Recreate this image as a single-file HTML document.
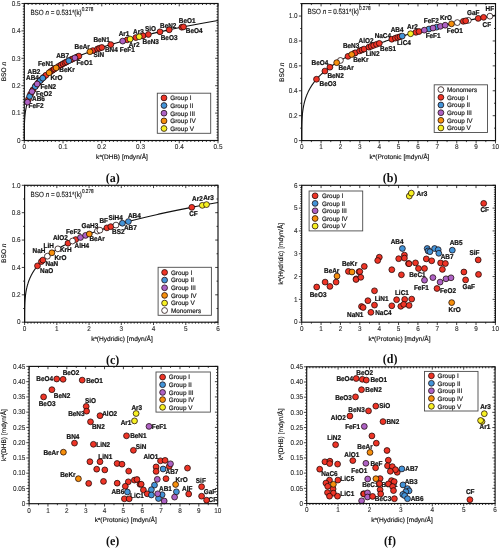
<!DOCTYPE html><html><head><meta charset="utf-8"><style>html,body{margin:0;padding:0;background:#fff;}svg{display:block;will-change:transform;}text{font-family:"Liberation Sans",sans-serif;text-rendering:geometricPrecision;}.lb{font-weight:bold;fill:#111;stroke:#111;stroke-width:0.22;}.tk{fill:#2a2a2a;stroke:#2a2a2a;stroke-width:0.1;}.lg{fill:#222;stroke:#222;stroke-width:0.2;}.tt{fill:#111;stroke:#111;stroke-width:0.15;}.eq{fill:#222;stroke:#222;stroke-width:0.15;}.cap{font-family:"Liberation Serif",serif;font-weight:bold;fill:#111;}</style></head><body>
<svg width="502" height="550" viewBox="0 0 502 550">
<rect width="502" height="550" fill="#fff"/>
<g>
<g>
<path d="M24.3 140.5v2.8M24.3 3.5v2.8M28.17 140.5v1.5M28.17 3.5v1.5M32.05 140.5v1.5M32.05 3.5v1.5M35.92 140.5v1.5M35.92 3.5v1.5M39.8 140.5v1.5M39.8 3.5v1.5M43.67 140.5v1.5M43.67 3.5v1.5M47.54 140.5v1.5M47.54 3.5v1.5M51.42 140.5v1.5M51.42 3.5v1.5M55.29 140.5v1.5M55.29 3.5v1.5M59.17 140.5v1.5M59.17 3.5v1.5M63.04 140.5v2.8M63.04 3.5v2.8M66.91 140.5v1.5M66.91 3.5v1.5M70.79 140.5v1.5M70.79 3.5v1.5M74.66 140.5v1.5M74.66 3.5v1.5M78.54 140.5v1.5M78.54 3.5v1.5M82.41 140.5v1.5M82.41 3.5v1.5M86.28 140.5v1.5M86.28 3.5v1.5M90.16 140.5v1.5M90.16 3.5v1.5M94.03 140.5v1.5M94.03 3.5v1.5M97.91 140.5v1.5M97.91 3.5v1.5M101.78 140.5v2.8M101.78 3.5v2.8M105.65 140.5v1.5M105.65 3.5v1.5M109.53 140.5v1.5M109.53 3.5v1.5M113.4 140.5v1.5M113.4 3.5v1.5M117.28 140.5v1.5M117.28 3.5v1.5M121.15 140.5v1.5M121.15 3.5v1.5M125.02 140.5v1.5M125.02 3.5v1.5M128.9 140.5v1.5M128.9 3.5v1.5M132.77 140.5v1.5M132.77 3.5v1.5M136.65 140.5v1.5M136.65 3.5v1.5M140.52 140.5v2.8M140.52 3.5v2.8M144.39 140.5v1.5M144.39 3.5v1.5M148.27 140.5v1.5M148.27 3.5v1.5M152.14 140.5v1.5M152.14 3.5v1.5M156.02 140.5v1.5M156.02 3.5v1.5M159.89 140.5v1.5M159.89 3.5v1.5M163.76 140.5v1.5M163.76 3.5v1.5M167.64 140.5v1.5M167.64 3.5v1.5M171.51 140.5v1.5M171.51 3.5v1.5M175.39 140.5v1.5M175.39 3.5v1.5M179.26 140.5v2.8M179.26 3.5v2.8M183.13 140.5v1.5M183.13 3.5v1.5M187.01 140.5v1.5M187.01 3.5v1.5M190.88 140.5v1.5M190.88 3.5v1.5M194.76 140.5v1.5M194.76 3.5v1.5M198.63 140.5v1.5M198.63 3.5v1.5M202.5 140.5v1.5M202.5 3.5v1.5M206.38 140.5v1.5M206.38 3.5v1.5M210.25 140.5v1.5M210.25 3.5v1.5M214.13 140.5v1.5M214.13 3.5v1.5M218 140.5v2.8M218 3.5v2.8" stroke="#111" stroke-width="0.8" fill="none"/>
<text transform="translate(24.3,149) scale(1,1.1)" class="tk" font-size="6.4" text-anchor="middle">0</text>
<text transform="translate(63.04,149) scale(1,1.1)" class="tk" font-size="6.4" text-anchor="middle">0.1</text>
<text transform="translate(101.78,149) scale(1,1.1)" class="tk" font-size="6.4" text-anchor="middle">0.2</text>
<text transform="translate(140.52,149) scale(1,1.1)" class="tk" font-size="6.4" text-anchor="middle">0.3</text>
<text transform="translate(179.26,149) scale(1,1.1)" class="tk" font-size="6.4" text-anchor="middle">0.4</text>
<text transform="translate(218,149) scale(1,1.1)" class="tk" font-size="6.4" text-anchor="middle">0.5</text>
<path d="M24.3 140.5h-2.8M218 140.5h-2.8M24.3 137.76h-1.5M218 137.76h-1.5M24.3 135.02h-1.5M218 135.02h-1.5M24.3 132.28h-1.5M218 132.28h-1.5M24.3 129.54h-1.5M218 129.54h-1.5M24.3 126.8h-1.5M218 126.8h-1.5M24.3 124.06h-1.5M218 124.06h-1.5M24.3 121.32h-1.5M218 121.32h-1.5M24.3 118.58h-1.5M218 118.58h-1.5M24.3 115.84h-1.5M218 115.84h-1.5M24.3 113.1h-2.8M218 113.1h-2.8M24.3 110.36h-1.5M218 110.36h-1.5M24.3 107.62h-1.5M218 107.62h-1.5M24.3 104.88h-1.5M218 104.88h-1.5M24.3 102.14h-1.5M218 102.14h-1.5M24.3 99.4h-1.5M218 99.4h-1.5M24.3 96.66h-1.5M218 96.66h-1.5M24.3 93.92h-1.5M218 93.92h-1.5M24.3 91.18h-1.5M218 91.18h-1.5M24.3 88.44h-1.5M218 88.44h-1.5M24.3 85.7h-2.8M218 85.7h-2.8M24.3 82.96h-1.5M218 82.96h-1.5M24.3 80.22h-1.5M218 80.22h-1.5M24.3 77.48h-1.5M218 77.48h-1.5M24.3 74.74h-1.5M218 74.74h-1.5M24.3 72h-1.5M218 72h-1.5M24.3 69.26h-1.5M218 69.26h-1.5M24.3 66.52h-1.5M218 66.52h-1.5M24.3 63.78h-1.5M218 63.78h-1.5M24.3 61.04h-1.5M218 61.04h-1.5M24.3 58.3h-2.8M218 58.3h-2.8M24.3 55.56h-1.5M218 55.56h-1.5M24.3 52.82h-1.5M218 52.82h-1.5M24.3 50.08h-1.5M218 50.08h-1.5M24.3 47.34h-1.5M218 47.34h-1.5M24.3 44.6h-1.5M218 44.6h-1.5M24.3 41.86h-1.5M218 41.86h-1.5M24.3 39.12h-1.5M218 39.12h-1.5M24.3 36.38h-1.5M218 36.38h-1.5M24.3 33.64h-1.5M218 33.64h-1.5M24.3 30.9h-2.8M218 30.9h-2.8M24.3 28.16h-1.5M218 28.16h-1.5M24.3 25.42h-1.5M218 25.42h-1.5M24.3 22.68h-1.5M218 22.68h-1.5M24.3 19.94h-1.5M218 19.94h-1.5M24.3 17.2h-1.5M218 17.2h-1.5M24.3 14.46h-1.5M218 14.46h-1.5M24.3 11.72h-1.5M218 11.72h-1.5M24.3 8.98h-1.5M218 8.98h-1.5M24.3 6.24h-1.5M218 6.24h-1.5M24.3 3.5h-2.8M218 3.5h-2.8" stroke="#111" stroke-width="0.8" fill="none"/>
<text transform="translate(20.6,142.7) scale(1,1.1)" class="tk" font-size="6.4" text-anchor="end">0</text>
<text transform="translate(20.6,115.3) scale(1,1.1)" class="tk" font-size="6.4" text-anchor="end">0.1</text>
<text transform="translate(20.6,87.9) scale(1,1.1)" class="tk" font-size="6.4" text-anchor="end">0.2</text>
<text transform="translate(20.6,60.5) scale(1,1.1)" class="tk" font-size="6.4" text-anchor="end">0.3</text>
<text transform="translate(20.6,33.1) scale(1,1.1)" class="tk" font-size="6.4" text-anchor="end">0.4</text>
<text transform="translate(20.6,5.7) scale(1,1.1)" class="tk" font-size="6.4" text-anchor="end">0.5</text>
<polyline points="24.3,140.5 24.3,139.69 24.3,139.05 24.3,138.47 24.3,137.92 24.3,137.4 24.3,136.89 24.3,136.39 24.3,135.91 24.3,135.43 24.3,134.97 24.3,134.51 24.31,134.06 24.31,133.61 24.31,133.17 24.31,132.74 24.31,132.31 24.31,131.89 24.32,131.46 24.32,131.05 24.32,130.63 24.33,130.23 24.33,129.82 24.34,129.42 24.34,129.01 24.35,128.62 24.35,128.22 24.36,127.83 24.37,127.44 24.37,127.05 24.38,126.67 24.39,126.28 24.4,125.9 24.41,125.52 24.42,125.14 24.43,124.77 24.44,124.39 24.45,124.02 24.47,123.65 24.48,123.28 24.49,122.91 24.51,122.55 24.52,122.18 24.54,121.82 24.56,121.46 24.58,121.1 24.59,120.74 24.61,120.38 24.63,120.03 24.66,119.67 24.68,119.32 24.7,118.96 24.73,118.61 24.75,118.26 24.78,117.91 24.8,117.56 24.83,117.22 24.86,116.87 24.89,116.53 24.92,116.18 24.95,115.84 24.99,115.5 25.02,115.15 25.06,114.81 25.09,114.47 25.13,114.14 25.17,113.8 25.21,113.46 25.25,113.13 25.29,112.79 25.34,112.46 25.38,112.12 25.43,111.79 25.48,111.46 25.53,111.12 25.58,110.79 25.63,110.46 25.68,110.13 25.74,109.81 25.79,109.48 25.85,109.15 25.91,108.82 25.97,108.5 26.03,108.17 26.09,107.85 26.16,107.53 26.23,107.2 26.29,106.88 26.36,106.56 26.43,106.24 26.51,105.92 26.58,105.6 26.66,105.28 26.73,104.96 26.81,104.64 26.89,104.32 26.98,104 27.06,103.69 27.15,103.37 27.24,103.05 27.33,102.74 27.42,102.42 27.51,102.11 27.61,101.8 27.7,101.48 27.8,101.17 27.9,100.86 28.01,100.55 28.11,100.24 28.22,99.93 28.33,99.62 28.44,99.31 28.55,99 28.67,98.69 28.78,98.38 28.9,98.07 29.02,97.76 29.15,97.46 29.27,97.15 29.4,96.84 29.53,96.54 29.66,96.23 29.8,95.93 29.93,95.62 30.07,95.32 30.21,95.02 30.35,94.71 30.5,94.41 30.65,94.11 30.8,93.8 30.95,93.5 31.1,93.2 31.26,92.9 31.42,92.6 31.58,92.3 31.75,92 31.91,91.7 32.08,91.4 32.25,91.1 32.43,90.8 32.6,90.51 32.78,90.21 32.97,89.91 33.15,89.61 33.34,89.32 33.53,89.02 33.72,88.73 33.91,88.43 34.11,88.14 34.31,87.84 34.51,87.55 34.72,87.25 34.93,86.96 35.14,86.66 35.35,86.37 35.57,86.08 35.79,85.78 36.01,85.49 36.24,85.2 36.47,84.91 36.7,84.62 36.93,84.33 37.17,84.04 37.41,83.74 37.65,83.45 37.9,83.16 38.14,82.88 38.4,82.59 38.65,82.3 38.91,82.01 39.17,81.72 39.43,81.43 39.7,81.14 39.97,80.86 40.24,80.57 40.52,80.28 40.8,79.99 41.08,79.71 41.37,79.42 41.66,79.14 41.95,78.85 42.25,78.56 42.55,78.28 42.85,77.99 43.15,77.71 43.46,77.42 43.78,77.14 44.09,76.86 44.41,76.57 44.73,76.29 45.06,76.01 45.39,75.72 45.72,75.44 46.06,75.16 46.4,74.88 46.74,74.59 47.09,74.31 47.44,74.03 47.79,73.75 48.15,73.47 48.51,73.19 48.88,72.91 49.25,72.63 49.62,72.35 49.99,72.07 50.37,71.79 50.76,71.51 51.14,71.23 51.54,70.95 51.93,70.67 52.33,70.39 52.73,70.11 53.14,69.83 53.55,69.56 53.96,69.28 54.38,69 54.8,68.72 55.23,68.45 55.66,68.17 56.09,67.89 56.53,67.62 56.97,67.34 57.41,67.07 57.86,66.79 58.32,66.51 58.77,66.24 59.24,65.96 59.7,65.69 60.17,65.41 60.65,65.14 61.12,64.87 61.61,64.59 62.09,64.32 62.58,64.04 63.08,63.77 63.58,63.5 64.08,63.22 64.59,62.95 65.1,62.68 65.62,62.4 66.14,62.13 66.66,61.86 67.19,61.59 67.73,61.32 68.27,61.04 68.81,60.77 69.36,60.5 69.91,60.23 70.46,59.96 71.02,59.69 71.59,59.42 72.16,59.15 72.73,58.88 73.31,58.61 73.9,58.34 74.48,58.07 75.08,57.8 75.67,57.53 76.28,57.26 76.88,56.99 77.49,56.72 78.11,56.45 78.73,56.19 79.36,55.92 79.99,55.65 80.62,55.38 81.26,55.11 81.91,54.85 82.56,54.58 83.21,54.31 83.87,54.04 84.54,53.78 85.21,53.51 85.88,53.24 86.56,52.98 87.24,52.71 87.93,52.44 88.63,52.18 89.33,51.91 90.03,51.65 90.74,51.38 91.45,51.12 92.17,50.85 92.9,50.59 93.63,50.32 94.36,50.06 95.1,49.79 95.85,49.53 96.6,49.26 97.35,49 98.11,48.73 98.88,48.47 99.65,48.21 100.43,47.94 101.21,47.68 102,47.42 102.79,47.15 103.59,46.89 104.39,46.63 105.2,46.37 106.02,46.1 106.84,45.84 107.66,45.58 108.49,45.32 109.33,45.05 110.17,44.79 111.02,44.53 111.87,44.27 112.73,44.01 113.59,43.75 114.46,43.49 115.34,43.22 116.22,42.96 117.11,42.7 118,42.44 118.9,42.18 119.8,41.92 120.71,41.66 121.63,41.4 122.55,41.14 123.47,40.88 124.41,40.62 125.35,40.36 126.29,40.1 127.24,39.85 128.2,39.59 129.16,39.33 130.13,39.07 131.1,38.81 132.08,38.55 133.07,38.29 134.06,38.03 135.06,37.78 136.06,37.52 137.07,37.26 138.08,37 139.11,36.75 140.13,36.49 141.17,36.23 142.21,35.97 143.26,35.72 144.31,35.46 145.37,35.2 146.43,34.95 147.5,34.69 148.58,34.43 149.67,34.18 150.76,33.92 151.85,33.66 152.95,33.41 154.06,33.15 155.18,32.9 156.3,32.64 157.43,32.39 158.56,32.13 159.71,31.87 160.85,31.62 162.01,31.36 163.17,31.11 164.33,30.85 165.51,30.6 166.69,30.35 167.87,30.09 169.07,29.84 170.27,29.58 171.47,29.33 172.69,29.07 173.91,28.82 175.13,28.57 176.36,28.31 177.6,28.06 178.85,27.81 180.1,27.55 181.36,27.3 182.63,27.05 183.9,26.79 185.18,26.54 186.47,26.29 187.77,26.04 189.07,25.78 190.37,25.53 191.69,25.28 193.01,25.03 194.34,24.77 195.67,24.52 197.02,24.27 198.37,24.02 199.72,23.77 201.08,23.52 202.46,23.26 203.83,23.01 205.22,22.76 206.61,22.51 208.01,22.26 209.41,22.01 210.83,21.76 212.25,21.51 213.67,21.26 215.11,21.01 216.55,20.76 218,20.51" fill="none" stroke="#111" stroke-width="1.1"/>
<text transform="translate(178.85,22.8) scale(1,1.1)" class="lb" font-size="6.4">BeO1</text>
<text transform="translate(185.85,32.6) scale(1,1.1)" class="lb" font-size="6.4">BeO4</text>
<text transform="translate(160.05,27.7) scale(1,1.1)" class="lb" font-size="6.4">BeN2</text>
<text transform="translate(160.75,40.2) scale(1,1.1)" class="lb" font-size="6.4">BeO3</text>
<text transform="translate(144.95,30.7) scale(1,1.1)" class="lb" font-size="6.4">SiO</text>
<text transform="translate(142.55,43.9) scale(1,1.1)" class="lb" font-size="6.4">BeN3</text>
<text transform="translate(133.05,33.7) scale(1,1.1)" class="lb" font-size="6.4">Ar3</text>
<text transform="translate(128.85,46.9) scale(1,1.1)" class="lb" font-size="6.4">Ar2</text>
<text transform="translate(118.65,36.1) scale(1,1.1)" class="lb" font-size="6.4">Ar1</text>
<text transform="translate(119.85,51.6) scale(1,1.1)" class="lb" font-size="6.4">FeF1</text>
<text transform="translate(93.45,41.9) scale(1,1.1)" class="lb" font-size="6.4">BeN1</text>
<text transform="translate(104.95,52.3) scale(1,1.1)" class="lb" font-size="6.4">BN4</text>
<text transform="translate(74.55,48.8) scale(1,1.1)" class="lb" font-size="6.4">BeAr</text>
<text transform="translate(93.45,57.3) scale(1,1.1)" class="lb" font-size="6.4">SiN</text>
<text transform="translate(56.15,57.9) scale(1,1.1)" class="lb" font-size="6.4">AB7</text>
<text transform="translate(76.45,64.8) scale(1,1.1)" class="lb" font-size="6.4">FeO1</text>
<text transform="translate(37.95,65.9) scale(1,1.1)" class="lb" font-size="6.4">FeN1</text>
<text transform="translate(59.35,72.4) scale(1,1.1)" class="lb" font-size="6.4">BeKr</text>
<text transform="translate(27.55,74.3) scale(1,1.1)" class="lb" font-size="6.4">AB2</text>
<text transform="translate(50.45,79.8) scale(1,1.1)" class="lb" font-size="6.4">KrO</text>
<text transform="translate(26.05,79.8) scale(1,1.1)" class="lb" font-size="6.4">AB4</text>
<text transform="translate(40.45,89.2) scale(1,1.1)" class="lb" font-size="6.4">FeN2</text>
<text transform="translate(35.95,95.7) scale(1,1.1)" class="lb" font-size="6.4">FeO2</text>
<text transform="translate(32.05,101.4) scale(1,1.1)" class="lb" font-size="6.4">AB6</text>
<text transform="translate(28.55,108.3) scale(1,1.1)" class="lb" font-size="6.4">FeF2</text>
<text transform="translate(30.4,14.6) scale(1,1.2)" class="eq" font-size="6.3">BSO <tspan font-style="italic">n</tspan> = 0.531*(k)<tspan dy="-3.3" font-size="4.7">0.278</tspan></text>
<text transform="translate(6.2,71.6) rotate(-90)" class="tt" font-size="6.6" text-anchor="middle">BSO <tspan font-style="italic">n</tspan></text>
<text x="122" y="159" class="tt" font-size="6.6" text-anchor="middle">k<tspan dy="-2.2" font-size="4.2">a</tspan><tspan dy="2.2">(DHB) [mdyn/Å]</tspan></text>
<text transform="translate(112.7,182) scale(1,1.07)" class="cap" font-size="12" text-anchor="middle">(a)</text>
<circle cx="28.4" cy="99.41" r="2.92" fill="#ee3426" stroke="#1a0606" stroke-width="0.75"/>
<circle cx="30.6" cy="94.2" r="2.92" fill="#ee3426" stroke="#1a0606" stroke-width="0.75"/>
<circle cx="33" cy="89.86" r="2.92" fill="#ee3426" stroke="#1a0606" stroke-width="0.75"/>
<circle cx="35.6" cy="86.04" r="2.92" fill="#ee3426" stroke="#1a0606" stroke-width="0.75"/>
<circle cx="38.2" cy="82.81" r="2.92" fill="#ee3426" stroke="#1a0606" stroke-width="0.75"/>
<circle cx="40.8" cy="79.99" r="2.92" fill="#ee3426" stroke="#1a0606" stroke-width="0.75"/>
<circle cx="43.6" cy="77.3" r="2.92" fill="#ee3426" stroke="#1a0606" stroke-width="0.75"/>
<circle cx="45.9" cy="75.29" r="2.92" fill="#ee3426" stroke="#1a0606" stroke-width="0.75"/>
<circle cx="50.8" cy="71.48" r="2.92" fill="#ee3426" stroke="#1a0606" stroke-width="0.75"/>
<circle cx="52.8" cy="70.07" r="2.92" fill="#ee3426" stroke="#1a0606" stroke-width="0.75"/>
<circle cx="54.4" cy="68.99" r="2.92" fill="#ee3426" stroke="#1a0606" stroke-width="0.75"/>
<circle cx="58.6" cy="66.34" r="2.92" fill="#ee3426" stroke="#1a0606" stroke-width="0.75"/>
<circle cx="61" cy="64.94" r="2.92" fill="#ee3426" stroke="#1a0606" stroke-width="0.75"/>
<circle cx="63" cy="63.81" r="2.92" fill="#ee3426" stroke="#1a0606" stroke-width="0.75"/>
<circle cx="65" cy="62.73" r="2.92" fill="#ee3426" stroke="#1a0606" stroke-width="0.75"/>
<circle cx="66.6" cy="61.89" r="2.92" fill="#ee3426" stroke="#1a0606" stroke-width="0.75"/>
<circle cx="71" cy="59.7" r="2.92" fill="#ee3426" stroke="#1a0606" stroke-width="0.75"/>
<circle cx="72.6" cy="58.94" r="2.92" fill="#ee3426" stroke="#1a0606" stroke-width="0.75"/>
<circle cx="77" cy="56.94" r="2.92" fill="#ee3426" stroke="#1a0606" stroke-width="0.75"/>
<circle cx="78.9" cy="56.11" r="2.92" fill="#ee3426" stroke="#1a0606" stroke-width="0.75"/>
<circle cx="92.9" cy="50.58" r="2.92" fill="#ee3426" stroke="#1a0606" stroke-width="0.75"/>
<circle cx="97.6" cy="48.91" r="2.92" fill="#ee3426" stroke="#1a0606" stroke-width="0.75"/>
<circle cx="99.5" cy="48.26" r="2.92" fill="#ee3426" stroke="#1a0606" stroke-width="0.75"/>
<circle cx="101.8" cy="47.48" r="2.92" fill="#ee3426" stroke="#1a0606" stroke-width="0.75"/>
<circle cx="110.8" cy="44.6" r="2.92" fill="#ee3426" stroke="#1a0606" stroke-width="0.75"/>
<circle cx="127.2" cy="39.86" r="2.92" fill="#ee3426" stroke="#1a0606" stroke-width="0.75"/>
<circle cx="135.8" cy="37.58" r="2.92" fill="#ee3426" stroke="#1a0606" stroke-width="0.75"/>
<circle cx="143" cy="35.78" r="2.92" fill="#ee3426" stroke="#1a0606" stroke-width="0.75"/>
<circle cx="148.4" cy="34.48" r="2.92" fill="#ee3426" stroke="#1a0606" stroke-width="0.75"/>
<circle cx="160" cy="31.81" r="2.92" fill="#ee3426" stroke="#1a0606" stroke-width="0.75"/>
<circle cx="169.2" cy="29.81" r="2.92" fill="#ee3426" stroke="#1a0606" stroke-width="0.75"/>
<circle cx="181.8" cy="27.21" r="2.92" fill="#ee3426" stroke="#1a0606" stroke-width="0.75"/>
<circle cx="183.5" cy="26.87" r="2.92" fill="#ee3426" stroke="#1a0606" stroke-width="0.75"/>
<circle cx="29.6" cy="96.37" r="2.92" fill="#4394d8" stroke="#1a0606" stroke-width="0.75"/>
<circle cx="35.2" cy="86.58" r="2.92" fill="#4394d8" stroke="#1a0606" stroke-width="0.75"/>
<circle cx="40.2" cy="80.61" r="2.92" fill="#4394d8" stroke="#1a0606" stroke-width="0.75"/>
<circle cx="42.7" cy="78.13" r="2.92" fill="#4394d8" stroke="#1a0606" stroke-width="0.75"/>
<circle cx="68.8" cy="60.78" r="2.92" fill="#4394d8" stroke="#1a0606" stroke-width="0.75"/>
<circle cx="27.5" cy="102.15" r="2.92" fill="#ad62c4" stroke="#1a0606" stroke-width="0.75"/>
<circle cx="32" cy="91.55" r="2.92" fill="#ad62c4" stroke="#1a0606" stroke-width="0.75"/>
<circle cx="37.2" cy="84" r="2.92" fill="#ad62c4" stroke="#1a0606" stroke-width="0.75"/>
<circle cx="74.9" cy="57.88" r="2.92" fill="#ad62c4" stroke="#1a0606" stroke-width="0.75"/>
<circle cx="122.7" cy="41.1" r="2.92" fill="#ad62c4" stroke="#1a0606" stroke-width="0.75"/>
<circle cx="49.1" cy="72.74" r="2.92" fill="#f68f0c" stroke="#1a0606" stroke-width="0.75"/>
<circle cx="56.1" cy="67.89" r="2.92" fill="#f68f0c" stroke="#1a0606" stroke-width="0.75"/>
<circle cx="89.9" cy="51.7" r="2.92" fill="#f68f0c" stroke="#1a0606" stroke-width="0.75"/>
<circle cx="130.1" cy="39.08" r="2.92" fill="#f6f023" stroke="#1a0606" stroke-width="0.75"/>
<circle cx="139.2" cy="36.72" r="2.92" fill="#f6f023" stroke="#1a0606" stroke-width="0.75"/>
<rect x="157.3" y="93.2" width="53.4" height="40.1" fill="#fff" stroke="#4a4a4a" stroke-width="0.9"/>
<circle cx="164" cy="97.9" r="2.9" fill="#ee3426" stroke="#1a0606" stroke-width="0.75"/>
<text x="170.2" y="100.2" class="lg" font-size="6.4">Group I</text>
<circle cx="164" cy="105.5" r="2.9" fill="#4394d8" stroke="#1a0606" stroke-width="0.75"/>
<text x="170.2" y="107.8" class="lg" font-size="6.4">Group II</text>
<circle cx="164" cy="113.2" r="2.9" fill="#ad62c4" stroke="#1a0606" stroke-width="0.75"/>
<text x="170.2" y="115.5" class="lg" font-size="6.4">Group III</text>
<circle cx="164" cy="120.9" r="2.9" fill="#f68f0c" stroke="#1a0606" stroke-width="0.75"/>
<text x="170.2" y="123.2" class="lg" font-size="6.4">Group IV</text>
<circle cx="164" cy="128.5" r="2.9" fill="#f6f023" stroke="#1a0606" stroke-width="0.75"/>
<text x="170.2" y="130.8" class="lg" font-size="6.4">Group V</text>
</g>
<g>
<path d="M301.7 140.6v2.8M301.7 3.6v2.8M311.39 140.6v1.5M311.39 3.6v1.5M321.08 140.6v2.8M321.08 3.6v2.8M330.77 140.6v1.5M330.77 3.6v1.5M340.46 140.6v2.8M340.46 3.6v2.8M350.15 140.6v1.5M350.15 3.6v1.5M359.84 140.6v2.8M359.84 3.6v2.8M369.53 140.6v1.5M369.53 3.6v1.5M379.22 140.6v2.8M379.22 3.6v2.8M388.91 140.6v1.5M388.91 3.6v1.5M398.6 140.6v2.8M398.6 3.6v2.8M408.29 140.6v1.5M408.29 3.6v1.5M417.98 140.6v2.8M417.98 3.6v2.8M427.67 140.6v1.5M427.67 3.6v1.5M437.36 140.6v2.8M437.36 3.6v2.8M447.05 140.6v1.5M447.05 3.6v1.5M456.74 140.6v2.8M456.74 3.6v2.8M466.43 140.6v1.5M466.43 3.6v1.5M476.12 140.6v2.8M476.12 3.6v2.8M485.81 140.6v1.5M485.81 3.6v1.5M495.5 140.6v2.8M495.5 3.6v2.8" stroke="#111" stroke-width="0.8" fill="none"/>
<text transform="translate(301.7,148.9) scale(1,1.1)" class="tk" font-size="6.4" text-anchor="middle">0</text>
<text transform="translate(321.08,148.9) scale(1,1.1)" class="tk" font-size="6.4" text-anchor="middle">1</text>
<text transform="translate(340.46,148.9) scale(1,1.1)" class="tk" font-size="6.4" text-anchor="middle">2</text>
<text transform="translate(359.84,148.9) scale(1,1.1)" class="tk" font-size="6.4" text-anchor="middle">3</text>
<text transform="translate(379.22,148.9) scale(1,1.1)" class="tk" font-size="6.4" text-anchor="middle">4</text>
<text transform="translate(398.6,148.9) scale(1,1.1)" class="tk" font-size="6.4" text-anchor="middle">5</text>
<text transform="translate(417.98,148.9) scale(1,1.1)" class="tk" font-size="6.4" text-anchor="middle">6</text>
<text transform="translate(437.36,148.9) scale(1,1.1)" class="tk" font-size="6.4" text-anchor="middle">7</text>
<text transform="translate(456.74,148.9) scale(1,1.1)" class="tk" font-size="6.4" text-anchor="middle">8</text>
<text transform="translate(476.12,148.9) scale(1,1.1)" class="tk" font-size="6.4" text-anchor="middle">9</text>
<text transform="translate(495.5,148.9) scale(1,1.1)" class="tk" font-size="6.4" text-anchor="middle">10</text>
<path d="M301.7 140.6h-2.8M495.5 140.6h-2.8M301.7 128.15h-1.5M495.5 128.15h-1.5M301.7 115.69h-2.8M495.5 115.69h-2.8M301.7 103.24h-1.5M495.5 103.24h-1.5M301.7 90.78h-2.8M495.5 90.78h-2.8M301.7 78.33h-1.5M495.5 78.33h-1.5M301.7 65.87h-2.8M495.5 65.87h-2.8M301.7 53.42h-1.5M495.5 53.42h-1.5M301.7 40.96h-2.8M495.5 40.96h-2.8M301.7 28.51h-1.5M495.5 28.51h-1.5M301.7 16.05h-2.8M495.5 16.05h-2.8M301.7 3.6h-1.5M495.5 3.6h-1.5" stroke="#111" stroke-width="0.8" fill="none"/>
<text transform="translate(297.6,142.8) scale(1,1.1)" class="tk" font-size="6.4" text-anchor="end">0</text>
<text transform="translate(297.6,117.89) scale(1,1.1)" class="tk" font-size="6.4" text-anchor="end">0.2</text>
<text transform="translate(297.6,92.98) scale(1,1.1)" class="tk" font-size="6.4" text-anchor="end">0.4</text>
<text transform="translate(297.6,68.07) scale(1,1.1)" class="tk" font-size="6.4" text-anchor="end">0.6</text>
<text transform="translate(297.6,43.16) scale(1,1.1)" class="tk" font-size="6.4" text-anchor="end">0.8</text>
<text transform="translate(297.6,18.25) scale(1,1.1)" class="tk" font-size="6.4" text-anchor="end">1.0</text>
<polyline points="301.7,140.6 301.7,139.75 301.7,139.09 301.7,138.48 301.7,137.91 301.7,137.35 301.7,136.82 301.7,136.3 301.7,135.8 301.7,135.3 301.7,134.81 301.7,134.34 301.71,133.86 301.71,133.4 301.71,132.94 301.71,132.49 301.71,132.04 301.71,131.59 301.72,131.16 301.72,130.72 301.72,130.29 301.73,129.86 301.73,129.43 301.74,129.01 301.74,128.59 301.75,128.18 301.75,127.77 301.76,127.35 301.77,126.95 301.77,126.54 301.78,126.14 301.79,125.74 301.8,125.34 301.81,124.94 301.82,124.55 301.83,124.15 301.84,123.76 301.85,123.37 301.87,122.99 301.88,122.6 301.89,122.22 301.91,121.83 301.92,121.45 301.94,121.07 301.96,120.7 301.98,120.32 301.99,119.94 302.01,119.57 302.03,119.2 302.06,118.83 302.08,118.46 302.1,118.09 302.13,117.72 302.15,117.35 302.18,116.99 302.2,116.62 302.23,116.26 302.26,115.9 302.29,115.54 302.32,115.18 302.35,114.82 302.39,114.46 302.42,114.11 302.46,113.75 302.49,113.39 302.53,113.04 302.57,112.69 302.61,112.33 302.65,111.98 302.69,111.63 302.74,111.28 302.78,110.93 302.83,110.59 302.88,110.24 302.93,109.89 302.98,109.55 303.03,109.2 303.08,108.86 303.14,108.51 303.19,108.17 303.25,107.83 303.31,107.49 303.37,107.15 303.43,106.81 303.49,106.47 303.56,106.13 303.63,105.79 303.69,105.46 303.76,105.12 303.83,104.78 303.91,104.45 303.98,104.11 304.06,103.78 304.14,103.44 304.22,103.11 304.3,102.78 304.38,102.45 304.46,102.12 304.55,101.79 304.64,101.46 304.73,101.13 304.82,100.8 304.91,100.47 305.01,100.14 305.11,99.81 305.21,99.49 305.31,99.16 305.41,98.84 305.51,98.51 305.62,98.19 305.73,97.86 305.84,97.54 305.95,97.21 306.07,96.89 306.19,96.57 306.31,96.25 306.43,95.93 306.55,95.6 306.68,95.28 306.8,94.96 306.93,94.64 307.06,94.32 307.2,94.01 307.33,93.69 307.47,93.37 307.61,93.05 307.76,92.74 307.9,92.42 308.05,92.1 308.2,91.79 308.35,91.47 308.51,91.16 308.66,90.84 308.82,90.53 308.99,90.21 309.15,89.9 309.32,89.59 309.49,89.27 309.66,88.96 309.83,88.65 310.01,88.34 310.19,88.03 310.37,87.72 310.55,87.41 310.74,87.1 310.93,86.79 311.12,86.48 311.32,86.17 311.52,85.86 311.72,85.55 311.92,85.24 312.13,84.94 312.33,84.63 312.55,84.32 312.76,84.02 312.98,83.71 313.2,83.4 313.42,83.1 313.64,82.79 313.87,82.49 314.1,82.18 314.34,81.88 314.57,81.57 314.81,81.27 315.06,80.97 315.3,80.66 315.55,80.36 315.8,80.06 316.06,79.76 316.32,79.45 316.58,79.15 316.84,78.85 317.11,78.55 317.38,78.25 317.65,77.95 317.93,77.65 318.21,77.35 318.49,77.05 318.78,76.75 319.07,76.45 319.36,76.15 319.66,75.85 319.96,75.56 320.26,75.26 320.56,74.96 320.87,74.66 321.19,74.37 321.5,74.07 321.82,73.77 322.14,73.48 322.47,73.18 322.8,72.88 323.13,72.59 323.47,72.29 323.81,72 324.15,71.7 324.5,71.41 324.85,71.12 325.21,70.82 325.56,70.53 325.93,70.23 326.29,69.94 326.66,69.65 327.03,69.35 327.41,69.06 327.79,68.77 328.17,68.48 328.56,68.19 328.95,67.89 329.34,67.6 329.74,67.31 330.15,67.02 330.55,66.73 330.96,66.44 331.38,66.15 331.79,65.86 332.22,65.57 332.64,65.28 333.07,64.99 333.51,64.7 333.94,64.41 334.39,64.12 334.83,63.84 335.28,63.55 335.73,63.26 336.19,62.97 336.65,62.68 337.12,62.4 337.59,62.11 338.06,61.82 338.54,61.53 339.03,61.25 339.51,60.96 340,60.68 340.5,60.39 341,60.1 341.5,59.82 342.01,59.53 342.52,59.25 343.04,58.96 343.56,58.68 344.09,58.39 344.62,58.11 345.15,57.82 345.69,57.54 346.23,57.26 346.78,56.97 347.33,56.69 347.89,56.41 348.45,56.12 349.01,55.84 349.58,55.56 350.16,55.28 350.74,54.99 351.32,54.71 351.91,54.43 352.5,54.15 353.1,53.87 353.7,53.58 354.31,53.3 354.92,53.02 355.54,52.74 356.16,52.46 356.79,52.18 357.42,51.9 358.05,51.62 358.69,51.34 359.34,51.06 359.99,50.78 360.64,50.5 361.3,50.22 361.97,49.94 362.64,49.66 363.31,49.39 363.99,49.11 364.68,48.83 365.37,48.55 366.06,48.27 366.76,47.99 367.46,47.72 368.17,47.44 368.89,47.16 369.61,46.88 370.33,46.61 371.06,46.33 371.8,46.05 372.54,45.78 373.28,45.5 374.04,45.22 374.79,44.95 375.55,44.67 376.32,44.4 377.09,44.12 377.87,43.85 378.65,43.57 379.44,43.29 380.23,43.02 381.03,42.74 381.84,42.47 382.64,42.2 383.46,41.92 384.28,41.65 385.11,41.37 385.94,41.1 386.77,40.83 387.62,40.55 388.46,40.28 389.32,40 390.18,39.73 391.04,39.46 391.91,39.19 392.79,38.91 393.67,38.64 394.56,38.37 395.45,38.1 396.35,37.82 397.25,37.55 398.16,37.28 399.08,37.01 400,36.74 400.93,36.46 401.86,36.19 402.8,35.92 403.74,35.65 404.69,35.38 405.65,35.11 406.61,34.84 407.58,34.57 408.56,34.3 409.54,34.03 410.52,33.76 411.51,33.49 412.51,33.22 413.52,32.95 414.53,32.68 415.54,32.41 416.57,32.14 417.59,31.87 418.63,31.6 419.67,31.33 420.72,31.06 421.77,30.8 422.83,30.53 423.9,30.26 424.97,29.99 426.05,29.72 427.13,29.45 428.22,29.19 429.32,28.92 430.42,28.65 431.53,28.38 432.65,28.12 433.77,27.85 434.9,27.58 436.03,27.31 437.17,27.05 438.32,26.78 439.48,26.51 440.64,26.25 441.81,25.98 442.98,25.72 444.16,25.45 445.35,25.18 446.54,24.92 447.74,24.65 448.95,24.39 450.16,24.12 451.38,23.86 452.61,23.59 453.84,23.33 455.08,23.06 456.33,22.8 457.58,22.53 458.84,22.27 460.11,22 461.39,21.74 462.67,21.47 463.95,21.21 465.25,20.94 466.55,20.68 467.86,20.42 469.17,20.15 470.5,19.89 471.83,19.63 473.16,19.36 474.5,19.1 475.85,18.84 477.21,18.57 478.58,18.31 479.95,18.05 481.33,17.78 482.71,17.52 484.1,17.26 485.5,17 486.91,16.74 488.32,16.47 489.74,16.21 491.17,15.95 492.61,15.69 494.05,15.43 495.5,15.16" fill="none" stroke="#111" stroke-width="1.1"/>
<text transform="translate(311.55,64.8) scale(1,1.1)" class="lb" font-size="6.4">BeO4</text>
<text transform="translate(327.45,78.2) scale(1,1.1)" class="lb" font-size="6.4">BeN2</text>
<text transform="translate(319.55,86.2) scale(1,1.1)" class="lb" font-size="6.4">BeO3</text>
<text transform="translate(338.45,69.8) scale(1,1.1)" class="lb" font-size="6.4">BeAr</text>
<text transform="translate(353.15,62.3) scale(1,1.1)" class="lb" font-size="6.4">BeKr</text>
<text transform="translate(342.95,47.9) scale(1,1.1)" class="lb" font-size="6.4">BeN3</text>
<text transform="translate(358.55,42.6) scale(1,1.1)" class="lb" font-size="6.4">AlO2</text>
<text transform="translate(365.65,55.7) scale(1,1.1)" class="lb" font-size="6.4">LiN2</text>
<text transform="translate(380.05,51) scale(1,1.1)" class="lb" font-size="6.4">BeS1</text>
<text transform="translate(374.65,37.8) scale(1,1.1)" class="lb" font-size="6.4">NaC4</text>
<text transform="translate(390.75,32.4) scale(1,1.1)" class="lb" font-size="6.4">AB4</text>
<text transform="translate(396.95,44.9) scale(1,1.1)" class="lb" font-size="6.4">LiC4</text>
<text transform="translate(407.05,28.8) scale(1,1.1)" class="lb" font-size="6.4">Ar2</text>
<text transform="translate(423.85,22.8) scale(1,1.1)" class="lb" font-size="6.4">FeF2</text>
<text transform="translate(439.95,20.1) scale(1,1.1)" class="lb" font-size="6.4">KrO</text>
<text transform="translate(425.65,37.8) scale(1,1.1)" class="lb" font-size="6.4">FeF1</text>
<text transform="translate(446.75,32.8) scale(1,1.1)" class="lb" font-size="6.4">FeO1</text>
<text transform="translate(467.05,14.8) scale(1,1.1)" class="lb" font-size="6.4">GaF</text>
<text transform="translate(485.55,10.7) scale(1,1.1)" class="lb" font-size="6.4">HF</text>
<text transform="translate(482.55,26.8) scale(1,1.1)" class="lb" font-size="6.4">CF</text>
<text transform="translate(307.6,14.3) scale(1,1.2)" class="eq" font-size="6.3">BSO <tspan font-style="italic">n</tspan> = 0.531*(k)<tspan dy="-3.3" font-size="4.7">0.278</tspan></text>
<text transform="translate(283.6,72.2) rotate(-90)" class="tt" font-size="6.6" text-anchor="middle">BSO <tspan font-style="italic">n</tspan></text>
<text x="399.5" y="159" class="tt" font-size="6.6" text-anchor="middle">k<tspan dy="-2.2" font-size="4.2">a</tspan><tspan dy="2.2">(Protonic [mdyn/Å]</tspan></text>
<text transform="translate(390.1,182) scale(1,1.07)" class="cap" font-size="12" text-anchor="middle">(b)</text>
<circle cx="316.5" cy="79.24" r="2.92" fill="#ee3426" stroke="#1a0606" stroke-width="0.75"/>
<circle cx="324.9" cy="71.07" r="2.92" fill="#ee3426" stroke="#1a0606" stroke-width="0.75"/>
<circle cx="329.9" cy="67.2" r="2.92" fill="#ee3426" stroke="#1a0606" stroke-width="0.75"/>
<circle cx="348" cy="56.35" r="2.92" fill="#ee3426" stroke="#1a0606" stroke-width="0.75"/>
<circle cx="354.5" cy="53.22" r="2.92" fill="#ee3426" stroke="#1a0606" stroke-width="0.75"/>
<circle cx="355.4" cy="52.8" r="2.92" fill="#ee3426" stroke="#1a0606" stroke-width="0.75"/>
<circle cx="359.7" cy="50.9" r="2.92" fill="#ee3426" stroke="#1a0606" stroke-width="0.75"/>
<circle cx="362" cy="49.93" r="2.92" fill="#ee3426" stroke="#1a0606" stroke-width="0.75"/>
<circle cx="364.1" cy="49.06" r="2.92" fill="#ee3426" stroke="#1a0606" stroke-width="0.75"/>
<circle cx="368.9" cy="47.16" r="2.92" fill="#ee3426" stroke="#1a0606" stroke-width="0.75"/>
<circle cx="371.2" cy="46.28" r="2.92" fill="#ee3426" stroke="#1a0606" stroke-width="0.75"/>
<circle cx="373.7" cy="45.35" r="2.92" fill="#ee3426" stroke="#1a0606" stroke-width="0.75"/>
<circle cx="376.5" cy="44.33" r="2.92" fill="#ee3426" stroke="#1a0606" stroke-width="0.75"/>
<circle cx="379.3" cy="43.34" r="2.92" fill="#ee3426" stroke="#1a0606" stroke-width="0.75"/>
<circle cx="391.8" cy="39.22" r="2.92" fill="#ee3426" stroke="#1a0606" stroke-width="0.75"/>
<circle cx="395.4" cy="38.11" r="2.92" fill="#ee3426" stroke="#1a0606" stroke-width="0.75"/>
<circle cx="397.8" cy="37.39" r="2.92" fill="#ee3426" stroke="#1a0606" stroke-width="0.75"/>
<circle cx="400" cy="36.74" r="2.92" fill="#ee3426" stroke="#1a0606" stroke-width="0.75"/>
<circle cx="415.9" cy="32.31" r="2.92" fill="#ee3426" stroke="#1a0606" stroke-width="0.75"/>
<circle cx="419" cy="31.51" r="2.92" fill="#ee3426" stroke="#1a0606" stroke-width="0.75"/>
<circle cx="468.3" cy="20.33" r="2.92" fill="#ffffff" stroke="#1a0606" stroke-width="0.75"/>
<circle cx="463.3" cy="21.34" r="2.92" fill="#ee3426" stroke="#1a0606" stroke-width="0.75"/>
<circle cx="465.7" cy="20.85" r="2.92" fill="#ee3426" stroke="#1a0606" stroke-width="0.75"/>
<circle cx="478.2" cy="18.38" r="2.92" fill="#ee3426" stroke="#1a0606" stroke-width="0.75"/>
<circle cx="483.6" cy="17.35" r="2.92" fill="#ee3426" stroke="#1a0606" stroke-width="0.75"/>
<circle cx="340.4" cy="60.45" r="2.92" fill="#ffffff" stroke="#1a0606" stroke-width="0.75"/>
<circle cx="336.7" cy="62.65" r="2.92" fill="#f68f0c" stroke="#1a0606" stroke-width="0.75"/>
<circle cx="351.7" cy="54.53" r="2.92" fill="#f68f0c" stroke="#1a0606" stroke-width="0.75"/>
<circle cx="402.2" cy="36.09" r="2.92" fill="#4394d8" stroke="#1a0606" stroke-width="0.75"/>
<circle cx="410.6" cy="33.74" r="2.92" fill="#f6f023" stroke="#1a0606" stroke-width="0.75"/>
<circle cx="429" cy="29" r="2.92" fill="#4394d8" stroke="#1a0606" stroke-width="0.75"/>
<circle cx="436.6" cy="27.18" r="2.92" fill="#4394d8" stroke="#1a0606" stroke-width="0.75"/>
<circle cx="424.3" cy="30.16" r="2.92" fill="#ad62c4" stroke="#1a0606" stroke-width="0.75"/>
<circle cx="433" cy="28.03" r="2.92" fill="#ad62c4" stroke="#1a0606" stroke-width="0.75"/>
<circle cx="440.4" cy="26.3" r="2.92" fill="#ad62c4" stroke="#1a0606" stroke-width="0.75"/>
<circle cx="445.2" cy="25.22" r="2.92" fill="#ad62c4" stroke="#1a0606" stroke-width="0.75"/>
<circle cx="451.5" cy="23.83" r="2.92" fill="#f68f0c" stroke="#1a0606" stroke-width="0.75"/>
<circle cx="457.3" cy="22.59" r="2.92" fill="#ffffff" stroke="#1a0606" stroke-width="0.75"/>
<circle cx="489.9" cy="16.18" r="2.92" fill="#ffffff" stroke="#1a0606" stroke-width="0.75"/>
<rect x="434.2" y="84.8" width="53.3" height="47.7" fill="#fff" stroke="#4a4a4a" stroke-width="0.9"/>
<circle cx="440.9" cy="89.6" r="2.9" fill="#ffffff" stroke="#1a0606" stroke-width="0.75"/>
<text x="447" y="91.9" class="lg" font-size="6.4">Monomers</text>
<circle cx="440.9" cy="97.3" r="2.9" fill="#ee3426" stroke="#1a0606" stroke-width="0.75"/>
<text x="447" y="99.6" class="lg" font-size="6.4">Group I</text>
<circle cx="440.9" cy="105" r="2.9" fill="#4394d8" stroke="#1a0606" stroke-width="0.75"/>
<text x="447" y="107.3" class="lg" font-size="6.4">Group II</text>
<circle cx="440.9" cy="112.7" r="2.9" fill="#ad62c4" stroke="#1a0606" stroke-width="0.75"/>
<text x="447" y="115" class="lg" font-size="6.4">Group III</text>
<circle cx="440.9" cy="120.3" r="2.9" fill="#f68f0c" stroke="#1a0606" stroke-width="0.75"/>
<text x="447" y="122.6" class="lg" font-size="6.4">Group IV</text>
<circle cx="440.9" cy="128" r="2.9" fill="#f6f023" stroke="#1a0606" stroke-width="0.75"/>
<text x="447" y="130.3" class="lg" font-size="6.4">Group V</text>
</g>
<g>
<path d="M24.6 322.2v2.8M24.6 185.3v2.8M27.82 322.2v1.5M27.82 185.3v1.5M31.05 322.2v1.5M31.05 185.3v1.5M34.27 322.2v1.5M34.27 185.3v1.5M37.49 322.2v1.5M37.49 185.3v1.5M40.72 322.2v1.5M40.72 185.3v1.5M43.94 322.2v1.5M43.94 185.3v1.5M47.16 322.2v1.5M47.16 185.3v1.5M50.39 322.2v1.5M50.39 185.3v1.5M53.61 322.2v1.5M53.61 185.3v1.5M56.83 322.2v2.8M56.83 185.3v2.8M60.06 322.2v1.5M60.06 185.3v1.5M63.28 322.2v1.5M63.28 185.3v1.5M66.5 322.2v1.5M66.5 185.3v1.5M69.73 322.2v1.5M69.73 185.3v1.5M72.95 322.2v1.5M72.95 185.3v1.5M76.17 322.2v1.5M76.17 185.3v1.5M79.4 322.2v1.5M79.4 185.3v1.5M82.62 322.2v1.5M82.62 185.3v1.5M85.84 322.2v1.5M85.84 185.3v1.5M89.07 322.2v2.8M89.07 185.3v2.8M92.29 322.2v1.5M92.29 185.3v1.5M95.51 322.2v1.5M95.51 185.3v1.5M98.74 322.2v1.5M98.74 185.3v1.5M101.96 322.2v1.5M101.96 185.3v1.5M105.18 322.2v1.5M105.18 185.3v1.5M108.41 322.2v1.5M108.41 185.3v1.5M111.63 322.2v1.5M111.63 185.3v1.5M114.85 322.2v1.5M114.85 185.3v1.5M118.08 322.2v1.5M118.08 185.3v1.5M121.3 322.2v2.8M121.3 185.3v2.8M124.52 322.2v1.5M124.52 185.3v1.5M127.75 322.2v1.5M127.75 185.3v1.5M130.97 322.2v1.5M130.97 185.3v1.5M134.19 322.2v1.5M134.19 185.3v1.5M137.42 322.2v1.5M137.42 185.3v1.5M140.64 322.2v1.5M140.64 185.3v1.5M143.86 322.2v1.5M143.86 185.3v1.5M147.09 322.2v1.5M147.09 185.3v1.5M150.31 322.2v1.5M150.31 185.3v1.5M153.53 322.2v2.8M153.53 185.3v2.8M156.76 322.2v1.5M156.76 185.3v1.5M159.98 322.2v1.5M159.98 185.3v1.5M163.2 322.2v1.5M163.2 185.3v1.5M166.43 322.2v1.5M166.43 185.3v1.5M169.65 322.2v1.5M169.65 185.3v1.5M172.87 322.2v1.5M172.87 185.3v1.5M176.1 322.2v1.5M176.1 185.3v1.5M179.32 322.2v1.5M179.32 185.3v1.5M182.54 322.2v1.5M182.54 185.3v1.5M185.77 322.2v2.8M185.77 185.3v2.8M188.99 322.2v1.5M188.99 185.3v1.5M192.21 322.2v1.5M192.21 185.3v1.5M195.44 322.2v1.5M195.44 185.3v1.5M198.66 322.2v1.5M198.66 185.3v1.5M201.88 322.2v1.5M201.88 185.3v1.5M205.11 322.2v1.5M205.11 185.3v1.5M208.33 322.2v1.5M208.33 185.3v1.5M211.55 322.2v1.5M211.55 185.3v1.5M214.78 322.2v1.5M214.78 185.3v1.5M218 322.2v2.8M218 185.3v2.8" stroke="#111" stroke-width="0.8" fill="none"/>
<text transform="translate(24.6,330.9) scale(1,1.1)" class="tk" font-size="6.4" text-anchor="middle">0</text>
<text transform="translate(56.83,330.9) scale(1,1.1)" class="tk" font-size="6.4" text-anchor="middle">1</text>
<text transform="translate(89.07,330.9) scale(1,1.1)" class="tk" font-size="6.4" text-anchor="middle">2</text>
<text transform="translate(121.3,330.9) scale(1,1.1)" class="tk" font-size="6.4" text-anchor="middle">3</text>
<text transform="translate(153.53,330.9) scale(1,1.1)" class="tk" font-size="6.4" text-anchor="middle">4</text>
<text transform="translate(185.77,330.9) scale(1,1.1)" class="tk" font-size="6.4" text-anchor="middle">5</text>
<text transform="translate(218,330.9) scale(1,1.1)" class="tk" font-size="6.4" text-anchor="middle">6</text>
<path d="M24.6 322.2h-2.8M218 322.2h-2.8M24.6 308.51h-1.5M218 308.51h-1.5M24.6 294.82h-2.8M218 294.82h-2.8M24.6 281.13h-1.5M218 281.13h-1.5M24.6 267.44h-2.8M218 267.44h-2.8M24.6 253.75h-1.5M218 253.75h-1.5M24.6 240.06h-2.8M218 240.06h-2.8M24.6 226.37h-1.5M218 226.37h-1.5M24.6 212.68h-2.8M218 212.68h-2.8M24.6 198.99h-1.5M218 198.99h-1.5M24.6 185.3h-2.8M218 185.3h-2.8" stroke="#111" stroke-width="0.8" fill="none"/>
<text transform="translate(20.6,324.4) scale(1,1.1)" class="tk" font-size="6.4" text-anchor="end">0</text>
<text transform="translate(20.6,297.02) scale(1,1.1)" class="tk" font-size="6.4" text-anchor="end">0.2</text>
<text transform="translate(20.6,269.64) scale(1,1.1)" class="tk" font-size="6.4" text-anchor="end">0.4</text>
<text transform="translate(20.6,242.26) scale(1,1.1)" class="tk" font-size="6.4" text-anchor="end">0.6</text>
<text transform="translate(20.6,214.88) scale(1,1.1)" class="tk" font-size="6.4" text-anchor="end">0.8</text>
<text transform="translate(20.6,187.5) scale(1,1.1)" class="tk" font-size="6.4" text-anchor="end">1.0</text>
<polyline points="24.6,322.2 24.6,321.39 24.6,320.76 24.6,320.18 24.6,319.63 24.6,319.11 24.6,318.6 24.6,318.1 24.6,317.62 24.6,317.15 24.6,316.68 24.6,316.23 24.61,315.78 24.61,315.33 24.61,314.9 24.61,314.46 24.61,314.04 24.61,313.61 24.62,313.19 24.62,312.78 24.62,312.37 24.63,311.96 24.63,311.55 24.64,311.15 24.64,310.75 24.65,310.35 24.65,309.96 24.66,309.57 24.67,309.18 24.67,308.79 24.68,308.41 24.69,308.03 24.7,307.65 24.71,307.27 24.72,306.89 24.73,306.52 24.74,306.14 24.75,305.77 24.77,305.4 24.78,305.03 24.79,304.67 24.81,304.3 24.82,303.94 24.84,303.58 24.86,303.22 24.88,302.86 24.89,302.5 24.91,302.14 24.93,301.79 24.96,301.44 24.98,301.08 25,300.73 25.02,300.38 25.05,300.03 25.08,299.68 25.1,299.34 25.13,298.99 25.16,298.64 25.19,298.3 25.22,297.96 25.25,297.61 25.29,297.27 25.32,296.93 25.36,296.59 25.39,296.25 25.43,295.92 25.47,295.58 25.51,295.24 25.55,294.91 25.59,294.57 25.64,294.24 25.68,293.91 25.73,293.58 25.78,293.25 25.82,292.91 25.87,292.59 25.93,292.26 25.98,291.93 26.03,291.6 26.09,291.27 26.15,290.95 26.21,290.62 26.27,290.3 26.33,289.97 26.39,289.65 26.46,289.33 26.52,289 26.59,288.68 26.66,288.36 26.73,288.04 26.8,287.72 26.88,287.4 26.95,287.08 27.03,286.77 27.11,286.45 27.19,286.13 27.27,285.82 27.36,285.5 27.44,285.18 27.53,284.87 27.62,284.56 27.71,284.24 27.81,283.93 27.9,283.62 28,283.3 28.1,282.99 28.2,282.68 28.3,282.37 28.41,282.06 28.51,281.75 28.62,281.44 28.73,281.13 28.85,280.82 28.96,280.52 29.08,280.21 29.2,279.9 29.32,279.59 29.44,279.29 29.57,278.98 29.69,278.68 29.82,278.37 29.95,278.07 30.09,277.76 30.22,277.46 30.36,277.16 30.5,276.86 30.64,276.55 30.79,276.25 30.94,275.95 31.09,275.65 31.24,275.35 31.39,275.05 31.55,274.75 31.71,274.45 31.87,274.15 32.03,273.85 32.2,273.55 32.37,273.25 32.54,272.95 32.72,272.66 32.89,272.36 33.07,272.06 33.25,271.77 33.44,271.47 33.62,271.18 33.81,270.88 34,270.58 34.2,270.29 34.4,270 34.6,269.7 34.8,269.41 35,269.11 35.21,268.82 35.42,268.53 35.64,268.24 35.85,267.94 36.07,267.65 36.29,267.36 36.52,267.07 36.75,266.78 36.98,266.49 37.21,266.2 37.45,265.91 37.69,265.62 37.93,265.33 38.17,265.04 38.42,264.75 38.67,264.46 38.93,264.18 39.19,263.89 39.45,263.6 39.71,263.31 39.98,263.03 40.25,262.74 40.52,262.45 40.8,262.17 41.07,261.88 41.36,261.59 41.64,261.31 41.93,261.02 42.22,260.74 42.52,260.45 42.82,260.17 43.12,259.89 43.42,259.6 43.73,259.32 44.05,259.03 44.36,258.75 44.68,258.47 45,258.19 45.33,257.9 45.66,257.62 45.99,257.34 46.32,257.06 46.66,256.78 47.01,256.5 47.35,256.21 47.7,255.93 48.06,255.65 48.41,255.37 48.78,255.09 49.14,254.81 49.51,254.53 49.88,254.25 50.25,253.98 50.63,253.7 51.02,253.42 51.4,253.14 51.79,252.86 52.19,252.58 52.59,252.31 52.99,252.03 53.39,251.75 53.8,251.47 54.22,251.2 54.63,250.92 55.05,250.64 55.48,250.37 55.91,250.09 56.34,249.82 56.78,249.54 57.22,249.27 57.66,248.99 58.11,248.72 58.56,248.44 59.02,248.17 59.48,247.89 59.95,247.62 60.42,247.34 60.89,247.07 61.37,246.8 61.85,246.52 62.33,246.25 62.82,245.98 63.32,245.71 63.82,245.43 64.32,245.16 64.83,244.89 65.34,244.62 65.85,244.34 66.37,244.07 66.9,243.8 67.43,243.53 67.96,243.26 68.5,242.99 69.04,242.72 69.59,242.45 70.14,242.18 70.69,241.91 71.25,241.64 71.82,241.37 72.39,241.1 72.96,240.83 73.54,240.56 74.12,240.29 74.71,240.02 75.3,239.75 75.9,239.48 76.5,239.22 77.1,238.95 77.71,238.68 78.33,238.41 78.95,238.14 79.57,237.88 80.2,237.61 80.84,237.34 81.47,237.07 82.12,236.81 82.77,236.54 83.42,236.28 84.08,236.01 84.74,235.74 85.41,235.48 86.08,235.21 86.76,234.95 87.45,234.68 88.13,234.41 88.83,234.15 89.52,233.88 90.23,233.62 90.94,233.35 91.65,233.09 92.37,232.83 93.09,232.56 93.82,232.3 94.55,232.03 95.29,231.77 96.04,231.51 96.79,231.24 97.54,230.98 98.3,230.72 99.07,230.45 99.84,230.19 100.61,229.93 101.39,229.66 102.18,229.4 102.97,229.14 103.77,228.88 104.57,228.62 105.38,228.35 106.19,228.09 107.01,227.83 107.83,227.57 108.66,227.31 109.5,227.05 110.34,226.79 111.18,226.53 112.04,226.26 112.89,226 113.76,225.74 114.62,225.48 115.5,225.22 116.38,224.96 117.26,224.7 118.15,224.44 119.05,224.18 119.95,223.92 120.86,223.67 121.78,223.41 122.7,223.15 123.62,222.89 124.55,222.63 125.49,222.37 126.43,222.11 127.38,221.85 128.34,221.6 129.3,221.34 130.26,221.08 131.23,220.82 132.21,220.56 133.2,220.31 134.19,220.05 135.18,219.79 136.19,219.53 137.19,219.28 138.21,219.02 139.23,218.76 140.26,218.51 141.29,218.25 142.33,217.99 143.37,217.74 144.42,217.48 145.48,217.23 146.54,216.97 147.61,216.71 148.69,216.46 149.77,216.2 150.86,215.95 151.95,215.69 153.06,215.44 154.16,215.18 155.28,214.93 156.4,214.67 157.52,214.42 158.66,214.16 159.8,213.91 160.94,213.65 162.09,213.4 163.25,213.15 164.42,212.89 165.59,212.64 166.77,212.38 167.95,212.13 169.14,211.88 170.34,211.62 171.55,211.37 172.76,211.12 173.97,210.86 175.2,210.61 176.43,210.36 177.67,210.11 178.91,209.85 180.16,209.6 181.42,209.35 182.69,209.1 183.96,208.84 185.23,208.59 186.52,208.34 187.81,208.09 189.11,207.84 190.42,207.58 191.73,207.33 193.05,207.08 194.37,206.83 195.71,206.58 197.05,206.33 198.4,206.08 199.75,205.83 201.11,205.58 202.48,205.32 203.85,205.07 205.24,204.82 206.63,204.57 208.02,204.32 209.43,204.07 210.84,203.82 212.26,203.57 213.68,203.32 215.11,203.07 216.55,202.82 218,202.57" fill="none" stroke="#111" stroke-width="1.1"/>
<text transform="translate(40.05,272.7) scale(1,1.1)" class="lb" font-size="6.4">NaO</text>
<text transform="translate(45.45,266.3) scale(1,1.1)" class="lb" font-size="6.4">NaN</text>
<text transform="translate(54.45,259.8) scale(1,1.1)" class="lb" font-size="6.4">KrO</text>
<text transform="translate(32.55,253.3) scale(1,1.1)" class="lb" font-size="6.4">NaH</text>
<text transform="translate(43.55,247.8) scale(1,1.1)" class="lb" font-size="6.4">LiH</text>
<text transform="translate(59.95,252.3) scale(1,1.1)" class="lb" font-size="6.4">KrH</text>
<text transform="translate(52.95,240.4) scale(1,1.1)" class="lb" font-size="6.4">AlO2</text>
<text transform="translate(65.95,234.3) scale(1,1.1)" class="lb" font-size="6.4">FeF2</text>
<text transform="translate(74.55,248.2) scale(1,1.1)" class="lb" font-size="6.4">AlH4</text>
<text transform="translate(81.55,227.9) scale(1,1.1)" class="lb" font-size="6.4">GaH3</text>
<text transform="translate(89.45,240.8) scale(1,1.1)" class="lb" font-size="6.4">BeAr</text>
<text transform="translate(99.45,223.3) scale(1,1.1)" class="lb" font-size="6.4">BF</text>
<text transform="translate(108.55,219.9) scale(1,1.1)" class="lb" font-size="6.4">SiH4</text>
<text transform="translate(112.05,233.8) scale(1,1.1)" class="lb" font-size="6.4">BS2</text>
<text transform="translate(127.95,217.8) scale(1,1.1)" class="lb" font-size="6.4">AB4</text>
<text transform="translate(123.95,229.8) scale(1,1.1)" class="lb" font-size="6.4">AB7</text>
<text transform="translate(189.25,215.5) scale(1,1.1)" class="lb" font-size="6.4">CF</text>
<text transform="translate(192.05,201.1) scale(1,1.1)" class="lb" font-size="6.4">Ar2</text>
<text transform="translate(203.25,200.1) scale(1,1.1)" class="lb" font-size="6.4">Ar3</text>
<text transform="translate(30.6,196.5) scale(1,1.2)" class="eq" font-size="6.3">BSO <tspan font-style="italic">n</tspan> = 0.531*(k)<tspan dy="-3.3" font-size="4.7">0.278</tspan></text>
<text transform="translate(6.3,253.2) rotate(-90)" class="tt" font-size="6.6" text-anchor="middle">BSO <tspan font-style="italic">n</tspan></text>
<text x="122" y="340.8" class="tt" font-size="6.6" text-anchor="middle">k<tspan dy="-2.2" font-size="4.2">a</tspan><tspan dy="2.2">(Hydridic) [mdyn/Å]</tspan></text>
<text transform="translate(112.7,363.6) scale(1,1.07)" class="cap" font-size="12" text-anchor="middle">(c)</text>
<circle cx="37.5" cy="265.84" r="2.92" fill="#ee3426" stroke="#1a0606" stroke-width="0.75"/>
<circle cx="41.4" cy="261.55" r="2.92" fill="#ee3426" stroke="#1a0606" stroke-width="0.75"/>
<circle cx="42.9" cy="260.09" r="2.92" fill="#ee3426" stroke="#1a0606" stroke-width="0.75"/>
<circle cx="68" cy="243.24" r="2.92" fill="#ee3426" stroke="#1a0606" stroke-width="0.75"/>
<circle cx="75.7" cy="239.57" r="2.92" fill="#ee3426" stroke="#1a0606" stroke-width="0.75"/>
<circle cx="106.9" cy="227.87" r="2.92" fill="#ee3426" stroke="#1a0606" stroke-width="0.75"/>
<circle cx="110.8" cy="226.64" r="2.92" fill="#ee3426" stroke="#1a0606" stroke-width="0.75"/>
<circle cx="191.8" cy="207.32" r="2.92" fill="#ee3426" stroke="#1a0606" stroke-width="0.75"/>
<circle cx="47.4" cy="256.18" r="2.92" fill="#ffffff" stroke="#1a0606" stroke-width="0.75"/>
<circle cx="57.9" cy="248.85" r="2.92" fill="#ffffff" stroke="#1a0606" stroke-width="0.75"/>
<circle cx="72.5" cy="241.04" r="2.92" fill="#ffffff" stroke="#1a0606" stroke-width="0.75"/>
<circle cx="97.4" cy="231.03" r="2.92" fill="#ffffff" stroke="#1a0606" stroke-width="0.75"/>
<circle cx="99.9" cy="230.17" r="2.92" fill="#ffffff" stroke="#1a0606" stroke-width="0.75"/>
<circle cx="116" cy="225.07" r="2.92" fill="#ffffff" stroke="#1a0606" stroke-width="0.75"/>
<circle cx="80.5" cy="237.48" r="2.92" fill="#ad62c4" stroke="#1a0606" stroke-width="0.75"/>
<circle cx="85.6" cy="235.4" r="2.92" fill="#ad62c4" stroke="#1a0606" stroke-width="0.75"/>
<circle cx="51.9" cy="252.79" r="2.92" fill="#f68f0c" stroke="#1a0606" stroke-width="0.75"/>
<circle cx="89.3" cy="233.97" r="2.92" fill="#f68f0c" stroke="#1a0606" stroke-width="0.75"/>
<circle cx="122.4" cy="223.23" r="2.92" fill="#4394d8" stroke="#1a0606" stroke-width="0.75"/>
<circle cx="128.4" cy="221.58" r="2.92" fill="#4394d8" stroke="#1a0606" stroke-width="0.75"/>
<circle cx="202.3" cy="205.36" r="2.92" fill="#f6f023" stroke="#1a0606" stroke-width="0.75"/>
<circle cx="206.5" cy="204.6" r="2.92" fill="#f6f023" stroke="#1a0606" stroke-width="0.75"/>
<rect x="158.1" y="267.3" width="53.3" height="48" fill="#fff" stroke="#4a4a4a" stroke-width="0.9"/>
<circle cx="164.6" cy="272.4" r="2.9" fill="#ee3426" stroke="#1a0606" stroke-width="0.75"/>
<text x="170.9" y="274.7" class="lg" font-size="6.4">Group I</text>
<circle cx="164.6" cy="280.1" r="2.9" fill="#4394d8" stroke="#1a0606" stroke-width="0.75"/>
<text x="170.9" y="282.4" class="lg" font-size="6.4">Group II</text>
<circle cx="164.6" cy="287.8" r="2.9" fill="#ad62c4" stroke="#1a0606" stroke-width="0.75"/>
<text x="170.9" y="290.1" class="lg" font-size="6.4">Group III</text>
<circle cx="164.6" cy="295.4" r="2.9" fill="#f68f0c" stroke="#1a0606" stroke-width="0.75"/>
<text x="170.9" y="297.7" class="lg" font-size="6.4">Group IV</text>
<circle cx="164.6" cy="303.1" r="2.9" fill="#f6f023" stroke="#1a0606" stroke-width="0.75"/>
<text x="170.9" y="305.4" class="lg" font-size="6.4">Group V</text>
<circle cx="164.6" cy="310.5" r="2.9" fill="#ffffff" stroke="#1a0606" stroke-width="0.75"/>
<text x="170.9" y="312.8" class="lg" font-size="6.4">Monomers</text>
</g>
<g>
<path d="M301.7 322.2v2.8M301.7 185.3v2.8M311.38 322.2v1.5M311.38 185.3v1.5M321.07 322.2v2.8M321.07 185.3v2.8M330.75 322.2v1.5M330.75 185.3v1.5M340.44 322.2v2.8M340.44 185.3v2.8M350.12 322.2v1.5M350.12 185.3v1.5M359.81 322.2v2.8M359.81 185.3v2.8M369.5 322.2v1.5M369.5 185.3v1.5M379.18 322.2v2.8M379.18 185.3v2.8M388.87 322.2v1.5M388.87 185.3v1.5M398.55 322.2v2.8M398.55 185.3v2.8M408.24 322.2v1.5M408.24 185.3v1.5M417.92 322.2v2.8M417.92 185.3v2.8M427.61 322.2v1.5M427.61 185.3v1.5M437.29 322.2v2.8M437.29 185.3v2.8M446.97 322.2v1.5M446.97 185.3v1.5M456.66 322.2v2.8M456.66 185.3v2.8M466.34 322.2v1.5M466.34 185.3v1.5M476.03 322.2v2.8M476.03 185.3v2.8M485.71 322.2v1.5M485.71 185.3v1.5M495.4 322.2v2.8M495.4 185.3v2.8" stroke="#111" stroke-width="0.8" fill="none"/>
<text transform="translate(301.7,330.9) scale(1,1.1)" class="tk" font-size="6.4" text-anchor="middle">0</text>
<text transform="translate(321.07,330.9) scale(1,1.1)" class="tk" font-size="6.4" text-anchor="middle">1</text>
<text transform="translate(340.44,330.9) scale(1,1.1)" class="tk" font-size="6.4" text-anchor="middle">2</text>
<text transform="translate(359.81,330.9) scale(1,1.1)" class="tk" font-size="6.4" text-anchor="middle">3</text>
<text transform="translate(379.18,330.9) scale(1,1.1)" class="tk" font-size="6.4" text-anchor="middle">4</text>
<text transform="translate(398.55,330.9) scale(1,1.1)" class="tk" font-size="6.4" text-anchor="middle">5</text>
<text transform="translate(417.92,330.9) scale(1,1.1)" class="tk" font-size="6.4" text-anchor="middle">6</text>
<text transform="translate(437.29,330.9) scale(1,1.1)" class="tk" font-size="6.4" text-anchor="middle">7</text>
<text transform="translate(456.66,330.9) scale(1,1.1)" class="tk" font-size="6.4" text-anchor="middle">8</text>
<text transform="translate(476.03,330.9) scale(1,1.1)" class="tk" font-size="6.4" text-anchor="middle">9</text>
<text transform="translate(495.4,330.9) scale(1,1.1)" class="tk" font-size="6.4" text-anchor="middle">10</text>
<path d="M301.7 322.2h-2.8M495.4 322.2h-2.8M301.7 319.92h-1.5M495.4 319.92h-1.5M301.7 317.64h-1.5M495.4 317.64h-1.5M301.7 315.35h-1.5M495.4 315.35h-1.5M301.7 313.07h-1.5M495.4 313.07h-1.5M301.7 310.79h-1.5M495.4 310.79h-1.5M301.7 308.51h-1.5M495.4 308.51h-1.5M301.7 306.23h-1.5M495.4 306.23h-1.5M301.7 303.95h-1.5M495.4 303.95h-1.5M301.7 301.66h-1.5M495.4 301.66h-1.5M301.7 299.38h-2.8M495.4 299.38h-2.8M301.7 297.1h-1.5M495.4 297.1h-1.5M301.7 294.82h-1.5M495.4 294.82h-1.5M301.7 292.54h-1.5M495.4 292.54h-1.5M301.7 290.26h-1.5M495.4 290.26h-1.5M301.7 287.98h-1.5M495.4 287.98h-1.5M301.7 285.69h-1.5M495.4 285.69h-1.5M301.7 283.41h-1.5M495.4 283.41h-1.5M301.7 281.13h-1.5M495.4 281.13h-1.5M301.7 278.85h-1.5M495.4 278.85h-1.5M301.7 276.57h-2.8M495.4 276.57h-2.8M301.7 274.28h-1.5M495.4 274.28h-1.5M301.7 272h-1.5M495.4 272h-1.5M301.7 269.72h-1.5M495.4 269.72h-1.5M301.7 267.44h-1.5M495.4 267.44h-1.5M301.7 265.16h-1.5M495.4 265.16h-1.5M301.7 262.88h-1.5M495.4 262.88h-1.5M301.7 260.6h-1.5M495.4 260.6h-1.5M301.7 258.31h-1.5M495.4 258.31h-1.5M301.7 256.03h-1.5M495.4 256.03h-1.5M301.7 253.75h-2.8M495.4 253.75h-2.8M301.7 251.47h-1.5M495.4 251.47h-1.5M301.7 249.19h-1.5M495.4 249.19h-1.5M301.7 246.91h-1.5M495.4 246.91h-1.5M301.7 244.62h-1.5M495.4 244.62h-1.5M301.7 242.34h-1.5M495.4 242.34h-1.5M301.7 240.06h-1.5M495.4 240.06h-1.5M301.7 237.78h-1.5M495.4 237.78h-1.5M301.7 235.5h-1.5M495.4 235.5h-1.5M301.7 233.22h-1.5M495.4 233.22h-1.5M301.7 230.93h-2.8M495.4 230.93h-2.8M301.7 228.65h-1.5M495.4 228.65h-1.5M301.7 226.37h-1.5M495.4 226.37h-1.5M301.7 224.09h-1.5M495.4 224.09h-1.5M301.7 221.81h-1.5M495.4 221.81h-1.5M301.7 219.53h-1.5M495.4 219.53h-1.5M301.7 217.24h-1.5M495.4 217.24h-1.5M301.7 214.96h-1.5M495.4 214.96h-1.5M301.7 212.68h-1.5M495.4 212.68h-1.5M301.7 210.4h-1.5M495.4 210.4h-1.5M301.7 208.12h-2.8M495.4 208.12h-2.8M301.7 205.83h-1.5M495.4 205.83h-1.5M301.7 203.55h-1.5M495.4 203.55h-1.5M301.7 201.27h-1.5M495.4 201.27h-1.5M301.7 198.99h-1.5M495.4 198.99h-1.5M301.7 196.71h-1.5M495.4 196.71h-1.5M301.7 194.43h-1.5M495.4 194.43h-1.5M301.7 192.15h-1.5M495.4 192.15h-1.5M301.7 189.86h-1.5M495.4 189.86h-1.5M301.7 187.58h-1.5M495.4 187.58h-1.5M301.7 185.3h-2.8M495.4 185.3h-2.8" stroke="#111" stroke-width="0.8" fill="none"/>
<text transform="translate(297.6,324.4) scale(1,1.1)" class="tk" font-size="6.4" text-anchor="end">0</text>
<text transform="translate(297.6,301.58) scale(1,1.1)" class="tk" font-size="6.4" text-anchor="end">1</text>
<text transform="translate(297.6,278.77) scale(1,1.1)" class="tk" font-size="6.4" text-anchor="end">2</text>
<text transform="translate(297.6,255.95) scale(1,1.1)" class="tk" font-size="6.4" text-anchor="end">3</text>
<text transform="translate(297.6,233.13) scale(1,1.1)" class="tk" font-size="6.4" text-anchor="end">4</text>
<text transform="translate(297.6,210.32) scale(1,1.1)" class="tk" font-size="6.4" text-anchor="end">5</text>
<text transform="translate(297.6,187.5) scale(1,1.1)" class="tk" font-size="6.4" text-anchor="end">6</text>
<text transform="translate(416.55,196) scale(1,1.1)" class="lb" font-size="6.4">Ar3</text>
<text transform="translate(480.45,212.3) scale(1,1.1)" class="lb" font-size="6.4">CF</text>
<text transform="translate(390.75,243.6) scale(1,1.1)" class="lb" font-size="6.4">AB4</text>
<text transform="translate(449.75,245.4) scale(1,1.1)" class="lb" font-size="6.4">AB5</text>
<text transform="translate(440.75,258.6) scale(1,1.1)" class="lb" font-size="6.4">AB7</text>
<text transform="translate(469.45,255) scale(1,1.1)" class="lb" font-size="6.4">SiF</text>
<text transform="translate(341.95,266.2) scale(1,1.1)" class="lb" font-size="6.4">BeKr</text>
<text transform="translate(324.05,272.8) scale(1,1.1)" class="lb" font-size="6.4">BeAr</text>
<text transform="translate(309.75,297.2) scale(1,1.1)" class="lb" font-size="6.4">BeO3</text>
<text transform="translate(409.25,277.2) scale(1,1.1)" class="lb" font-size="6.4">BeC1</text>
<text transform="translate(413.95,289.9) scale(1,1.1)" class="lb" font-size="6.4">FeF1</text>
<text transform="translate(439.95,292.7) scale(1,1.1)" class="lb" font-size="6.4">FeO2</text>
<text transform="translate(462.55,289.2) scale(1,1.1)" class="lb" font-size="6.4">GaF</text>
<text transform="translate(448.55,312.1) scale(1,1.1)" class="lb" font-size="6.4">KrO</text>
<text transform="translate(374.65,300.6) scale(1,1.1)" class="lb" font-size="6.4">LiN1</text>
<text transform="translate(394.95,294.7) scale(1,1.1)" class="lb" font-size="6.4">LiC1</text>
<text transform="translate(347.05,316.7) scale(1,1.1)" class="lb" font-size="6.4">NaN1</text>
<text transform="translate(375.25,314.9) scale(1,1.1)" class="lb" font-size="6.4">NaC4</text>
<text transform="translate(282.7,253.7) rotate(-90)" class="tt" font-size="6.6" text-anchor="middle">k<tspan dy="-2.2" font-size="4.2">a</tspan><tspan dy="2.2">(Hydridic) [mdyn/Å]</tspan></text>
<text x="399.5" y="340.8" class="tt" font-size="6.6" text-anchor="middle">k<tspan dy="-2.2" font-size="4.2">a</tspan><tspan dy="2.2">(Protonic) [mdyn/Å]</tspan></text>
<text transform="translate(390.1,363.4) scale(1,1.07)" class="cap" font-size="12" text-anchor="middle">(d)</text>
<circle cx="316.7" cy="287" r="2.92" fill="#ee3426" stroke="#1a0606" stroke-width="0.75"/>
<circle cx="325.1" cy="282.1" r="2.92" fill="#ee3426" stroke="#1a0606" stroke-width="0.75"/>
<circle cx="329.9" cy="286.4" r="2.92" fill="#ee3426" stroke="#1a0606" stroke-width="0.75"/>
<circle cx="336.1" cy="282.1" r="2.92" fill="#ee3426" stroke="#1a0606" stroke-width="0.75"/>
<circle cx="348.4" cy="271.4" r="2.92" fill="#ee3426" stroke="#1a0606" stroke-width="0.75"/>
<circle cx="356.2" cy="278.8" r="2.92" fill="#ee3426" stroke="#1a0606" stroke-width="0.75"/>
<circle cx="359.1" cy="271.7" r="2.92" fill="#ee3426" stroke="#1a0606" stroke-width="0.75"/>
<circle cx="356" cy="279.5" r="2.92" fill="#ee3426" stroke="#1a0606" stroke-width="0.75"/>
<circle cx="360.8" cy="277.3" r="2.92" fill="#ee3426" stroke="#1a0606" stroke-width="0.75"/>
<circle cx="364.3" cy="266.4" r="2.92" fill="#ee3426" stroke="#1a0606" stroke-width="0.75"/>
<circle cx="359.8" cy="271.6" r="2.92" fill="#ee3426" stroke="#1a0606" stroke-width="0.75"/>
<circle cx="379.3" cy="257.2" r="2.92" fill="#ee3426" stroke="#1a0606" stroke-width="0.75"/>
<circle cx="377.7" cy="260.5" r="2.92" fill="#ee3426" stroke="#1a0606" stroke-width="0.75"/>
<circle cx="391.8" cy="269.7" r="2.92" fill="#ee3426" stroke="#1a0606" stroke-width="0.75"/>
<circle cx="398.7" cy="258.7" r="2.92" fill="#ee3426" stroke="#1a0606" stroke-width="0.75"/>
<circle cx="404.4" cy="255.1" r="2.92" fill="#ee3426" stroke="#1a0606" stroke-width="0.75"/>
<circle cx="404.4" cy="258.1" r="2.92" fill="#ee3426" stroke="#1a0606" stroke-width="0.75"/>
<circle cx="408.5" cy="263.5" r="2.92" fill="#ee3426" stroke="#1a0606" stroke-width="0.75"/>
<circle cx="401.4" cy="274.8" r="2.92" fill="#ee3426" stroke="#1a0606" stroke-width="0.75"/>
<circle cx="374.5" cy="290.8" r="2.92" fill="#ee3426" stroke="#1a0606" stroke-width="0.75"/>
<circle cx="409" cy="263.7" r="2.92" fill="#ee3426" stroke="#1a0606" stroke-width="0.75"/>
<circle cx="415.5" cy="262.9" r="2.92" fill="#ee3426" stroke="#1a0606" stroke-width="0.75"/>
<circle cx="418.5" cy="268.5" r="2.92" fill="#ee3426" stroke="#1a0606" stroke-width="0.75"/>
<circle cx="424.5" cy="268.5" r="2.92" fill="#ee3426" stroke="#1a0606" stroke-width="0.75"/>
<circle cx="426.3" cy="258.9" r="2.92" fill="#ee3426" stroke="#1a0606" stroke-width="0.75"/>
<circle cx="431.7" cy="260.8" r="2.92" fill="#ee3426" stroke="#1a0606" stroke-width="0.75"/>
<circle cx="440.6" cy="262.9" r="2.92" fill="#ee3426" stroke="#1a0606" stroke-width="0.75"/>
<circle cx="445.4" cy="263.5" r="2.92" fill="#ee3426" stroke="#1a0606" stroke-width="0.75"/>
<circle cx="442.4" cy="269.4" r="2.92" fill="#ee3426" stroke="#1a0606" stroke-width="0.75"/>
<circle cx="437" cy="288.5" r="2.92" fill="#ee3426" stroke="#1a0606" stroke-width="0.75"/>
<circle cx="463.9" cy="272" r="2.92" fill="#ee3426" stroke="#1a0606" stroke-width="0.75"/>
<circle cx="478.2" cy="259.9" r="2.92" fill="#ee3426" stroke="#1a0606" stroke-width="0.75"/>
<circle cx="478.5" cy="274.4" r="2.92" fill="#ee3426" stroke="#1a0606" stroke-width="0.75"/>
<circle cx="465.6" cy="279.9" r="2.92" fill="#ee3426" stroke="#1a0606" stroke-width="0.75"/>
<circle cx="483.7" cy="203.4" r="2.92" fill="#ee3426" stroke="#1a0606" stroke-width="0.75"/>
<circle cx="367.9" cy="300.7" r="2.92" fill="#ee3426" stroke="#1a0606" stroke-width="0.75"/>
<circle cx="374.5" cy="305.1" r="2.92" fill="#ee3426" stroke="#1a0606" stroke-width="0.75"/>
<circle cx="361.5" cy="306.5" r="2.92" fill="#ee3426" stroke="#1a0606" stroke-width="0.75"/>
<circle cx="363.1" cy="307.5" r="2.92" fill="#ee3426" stroke="#1a0606" stroke-width="0.75"/>
<circle cx="370.9" cy="312.3" r="2.92" fill="#ee3426" stroke="#1a0606" stroke-width="0.75"/>
<circle cx="391.8" cy="305.8" r="2.92" fill="#ee3426" stroke="#1a0606" stroke-width="0.75"/>
<circle cx="396.6" cy="299.7" r="2.92" fill="#ee3426" stroke="#1a0606" stroke-width="0.75"/>
<circle cx="400.8" cy="306.3" r="2.92" fill="#ee3426" stroke="#1a0606" stroke-width="0.75"/>
<circle cx="404.7" cy="299.4" r="2.92" fill="#ee3426" stroke="#1a0606" stroke-width="0.75"/>
<circle cx="411.7" cy="299.1" r="2.92" fill="#ee3426" stroke="#1a0606" stroke-width="0.75"/>
<circle cx="403.7" cy="304.4" r="2.92" fill="#ee3426" stroke="#1a0606" stroke-width="0.75"/>
<circle cx="409.1" cy="305.4" r="2.92" fill="#ee3426" stroke="#1a0606" stroke-width="0.75"/>
<circle cx="402.4" cy="248.5" r="2.92" fill="#4394d8" stroke="#1a0606" stroke-width="0.75"/>
<circle cx="427.2" cy="248.5" r="2.92" fill="#4394d8" stroke="#1a0606" stroke-width="0.75"/>
<circle cx="428.1" cy="250.9" r="2.92" fill="#4394d8" stroke="#1a0606" stroke-width="0.75"/>
<circle cx="429.9" cy="251.7" r="2.92" fill="#4394d8" stroke="#1a0606" stroke-width="0.75"/>
<circle cx="434.6" cy="248.5" r="2.92" fill="#4394d8" stroke="#1a0606" stroke-width="0.75"/>
<circle cx="438.2" cy="249.7" r="2.92" fill="#4394d8" stroke="#1a0606" stroke-width="0.75"/>
<circle cx="438.8" cy="253.3" r="2.92" fill="#4394d8" stroke="#1a0606" stroke-width="0.75"/>
<circle cx="452.3" cy="250.2" r="2.92" fill="#4394d8" stroke="#1a0606" stroke-width="0.75"/>
<circle cx="424.5" cy="280.2" r="2.92" fill="#ad62c4" stroke="#1a0606" stroke-width="0.75"/>
<circle cx="432.9" cy="277.6" r="2.92" fill="#ad62c4" stroke="#1a0606" stroke-width="0.75"/>
<circle cx="440.1" cy="282.1" r="2.92" fill="#ad62c4" stroke="#1a0606" stroke-width="0.75"/>
<circle cx="446" cy="278.8" r="2.92" fill="#ad62c4" stroke="#1a0606" stroke-width="0.75"/>
<circle cx="451" cy="277.8" r="2.92" fill="#ad62c4" stroke="#1a0606" stroke-width="0.75"/>
<circle cx="337" cy="276.1" r="2.92" fill="#f68f0c" stroke="#1a0606" stroke-width="0.75"/>
<circle cx="352" cy="272" r="2.92" fill="#f68f0c" stroke="#1a0606" stroke-width="0.75"/>
<circle cx="451.7" cy="302.6" r="2.92" fill="#f68f0c" stroke="#1a0606" stroke-width="0.75"/>
<circle cx="409.3" cy="196.1" r="2.92" fill="#f6f023" stroke="#1a0606" stroke-width="0.75"/>
<circle cx="411.3" cy="193.1" r="2.92" fill="#f6f023" stroke="#1a0606" stroke-width="0.75"/>
<rect x="309.1" y="191" width="53.6" height="39.9" fill="#fff" stroke="#4a4a4a" stroke-width="0.9"/>
<circle cx="315.1" cy="195.8" r="2.9" fill="#ee3426" stroke="#1a0606" stroke-width="0.75"/>
<text x="322" y="198.1" class="lg" font-size="6.4">Group I</text>
<circle cx="315.1" cy="203.4" r="2.9" fill="#4394d8" stroke="#1a0606" stroke-width="0.75"/>
<text x="322" y="205.7" class="lg" font-size="6.4">Group II</text>
<circle cx="315.1" cy="210.8" r="2.9" fill="#ad62c4" stroke="#1a0606" stroke-width="0.75"/>
<text x="322" y="213.1" class="lg" font-size="6.4">Group III</text>
<circle cx="315.1" cy="218.5" r="2.9" fill="#f68f0c" stroke="#1a0606" stroke-width="0.75"/>
<text x="322" y="220.8" class="lg" font-size="6.4">Group IV</text>
<circle cx="315.1" cy="226.1" r="2.9" fill="#f6f023" stroke="#1a0606" stroke-width="0.75"/>
<text x="322" y="228.4" class="lg" font-size="6.4">Group V</text>
</g>
<g>
<path d="M29.1 503.7v2.8M29.1 366.4v2.8M38.53 503.7v1.5M38.53 366.4v1.5M47.96 503.7v2.8M47.96 366.4v2.8M57.39 503.7v1.5M57.39 366.4v1.5M66.82 503.7v2.8M66.82 366.4v2.8M76.25 503.7v1.5M76.25 366.4v1.5M85.68 503.7v2.8M85.68 366.4v2.8M95.11 503.7v1.5M95.11 366.4v1.5M104.54 503.7v2.8M104.54 366.4v2.8M113.97 503.7v1.5M113.97 366.4v1.5M123.4 503.7v2.8M123.4 366.4v2.8M132.83 503.7v1.5M132.83 366.4v1.5M142.26 503.7v2.8M142.26 366.4v2.8M151.69 503.7v1.5M151.69 366.4v1.5M161.12 503.7v2.8M161.12 366.4v2.8M170.55 503.7v1.5M170.55 366.4v1.5M179.98 503.7v2.8M179.98 366.4v2.8M189.41 503.7v1.5M189.41 366.4v1.5M198.84 503.7v2.8M198.84 366.4v2.8M208.27 503.7v1.5M208.27 366.4v1.5M217.7 503.7v2.8M217.7 366.4v2.8" stroke="#111" stroke-width="0.8" fill="none"/>
<text transform="translate(29.1,512.7) scale(1,1.1)" class="tk" font-size="6.4" text-anchor="middle">0</text>
<text transform="translate(47.96,512.7) scale(1,1.1)" class="tk" font-size="6.4" text-anchor="middle">1</text>
<text transform="translate(66.82,512.7) scale(1,1.1)" class="tk" font-size="6.4" text-anchor="middle">2</text>
<text transform="translate(85.68,512.7) scale(1,1.1)" class="tk" font-size="6.4" text-anchor="middle">3</text>
<text transform="translate(104.54,512.7) scale(1,1.1)" class="tk" font-size="6.4" text-anchor="middle">4</text>
<text transform="translate(123.4,512.7) scale(1,1.1)" class="tk" font-size="6.4" text-anchor="middle">5</text>
<text transform="translate(142.26,512.7) scale(1,1.1)" class="tk" font-size="6.4" text-anchor="middle">6</text>
<text transform="translate(161.12,512.7) scale(1,1.1)" class="tk" font-size="6.4" text-anchor="middle">7</text>
<text transform="translate(179.98,512.7) scale(1,1.1)" class="tk" font-size="6.4" text-anchor="middle">8</text>
<text transform="translate(198.84,512.7) scale(1,1.1)" class="tk" font-size="6.4" text-anchor="middle">9</text>
<text transform="translate(217.7,512.7) scale(1,1.1)" class="tk" font-size="6.4" text-anchor="middle">10</text>
<path d="M29.1 503.7h-2.8M217.7 503.7h-2.8M29.1 500.65h-1.5M217.7 500.65h-1.5M29.1 497.6h-1.5M217.7 497.6h-1.5M29.1 494.55h-1.5M217.7 494.55h-1.5M29.1 491.5h-1.5M217.7 491.5h-1.5M29.1 488.44h-2.8M217.7 488.44h-2.8M29.1 485.39h-1.5M217.7 485.39h-1.5M29.1 482.34h-1.5M217.7 482.34h-1.5M29.1 479.29h-1.5M217.7 479.29h-1.5M29.1 476.24h-1.5M217.7 476.24h-1.5M29.1 473.19h-2.8M217.7 473.19h-2.8M29.1 470.14h-1.5M217.7 470.14h-1.5M29.1 467.09h-1.5M217.7 467.09h-1.5M29.1 464.04h-1.5M217.7 464.04h-1.5M29.1 460.98h-1.5M217.7 460.98h-1.5M29.1 457.93h-2.8M217.7 457.93h-2.8M29.1 454.88h-1.5M217.7 454.88h-1.5M29.1 451.83h-1.5M217.7 451.83h-1.5M29.1 448.78h-1.5M217.7 448.78h-1.5M29.1 445.73h-1.5M217.7 445.73h-1.5M29.1 442.68h-2.8M217.7 442.68h-2.8M29.1 439.63h-1.5M217.7 439.63h-1.5M29.1 436.58h-1.5M217.7 436.58h-1.5M29.1 433.52h-1.5M217.7 433.52h-1.5M29.1 430.47h-1.5M217.7 430.47h-1.5M29.1 427.42h-2.8M217.7 427.42h-2.8M29.1 424.37h-1.5M217.7 424.37h-1.5M29.1 421.32h-1.5M217.7 421.32h-1.5M29.1 418.27h-1.5M217.7 418.27h-1.5M29.1 415.22h-1.5M217.7 415.22h-1.5M29.1 412.17h-2.8M217.7 412.17h-2.8M29.1 409.12h-1.5M217.7 409.12h-1.5M29.1 406.06h-1.5M217.7 406.06h-1.5M29.1 403.01h-1.5M217.7 403.01h-1.5M29.1 399.96h-1.5M217.7 399.96h-1.5M29.1 396.91h-2.8M217.7 396.91h-2.8M29.1 393.86h-1.5M217.7 393.86h-1.5M29.1 390.81h-1.5M217.7 390.81h-1.5M29.1 387.76h-1.5M217.7 387.76h-1.5M29.1 384.71h-1.5M217.7 384.71h-1.5M29.1 381.66h-2.8M217.7 381.66h-2.8M29.1 378.6h-1.5M217.7 378.6h-1.5M29.1 375.55h-1.5M217.7 375.55h-1.5M29.1 372.5h-1.5M217.7 372.5h-1.5M29.1 369.45h-1.5M217.7 369.45h-1.5M29.1 366.4h-2.8M217.7 366.4h-2.8" stroke="#111" stroke-width="0.8" fill="none"/>
<text transform="translate(25.4,505.9) scale(1,1.1)" class="tk" font-size="6.4" text-anchor="end">0</text>
<text transform="translate(25.4,490.64) scale(1,1.1)" class="tk" font-size="6.4" text-anchor="end">0.05</text>
<text transform="translate(25.4,475.39) scale(1,1.1)" class="tk" font-size="6.4" text-anchor="end">0.10</text>
<text transform="translate(25.4,460.13) scale(1,1.1)" class="tk" font-size="6.4" text-anchor="end">0.15</text>
<text transform="translate(25.4,444.88) scale(1,1.1)" class="tk" font-size="6.4" text-anchor="end">0.20</text>
<text transform="translate(25.4,429.62) scale(1,1.1)" class="tk" font-size="6.4" text-anchor="end">0.25</text>
<text transform="translate(25.4,414.37) scale(1,1.1)" class="tk" font-size="6.4" text-anchor="end">0.30</text>
<text transform="translate(25.4,399.11) scale(1,1.1)" class="tk" font-size="6.4" text-anchor="end">0.35</text>
<text transform="translate(25.4,383.86) scale(1,1.1)" class="tk" font-size="6.4" text-anchor="end">0.40</text>
<text transform="translate(25.4,368.6) scale(1,1.1)" class="tk" font-size="6.4" text-anchor="end">0.45</text>
<text transform="translate(62.65,375.3) scale(1,1.1)" class="lb" font-size="6.4">BeO2</text>
<text transform="translate(36.35,380.8) scale(1,1.1)" class="lb" font-size="6.4">BeO4</text>
<text transform="translate(86.15,383.2) scale(1,1.1)" class="lb" font-size="6.4">BeO1</text>
<text transform="translate(53.85,397.6) scale(1,1.1)" class="lb" font-size="6.4">BeN2</text>
<text transform="translate(38.75,406) scale(1,1.1)" class="lb" font-size="6.4">BeO3</text>
<text transform="translate(84.95,402.8) scale(1,1.1)" class="lb" font-size="6.4">SiO</text>
<text transform="translate(68.15,415.6) scale(1,1.1)" class="lb" font-size="6.4">BeN3</text>
<text transform="translate(102.25,416.3) scale(1,1.1)" class="lb" font-size="6.4">AlO2</text>
<text transform="translate(91.95,428.7) scale(1,1.1)" class="lb" font-size="6.4">BN2</text>
<text transform="translate(131.45,409.8) scale(1,1.1)" class="lb" font-size="6.4">Ar3</text>
<text transform="translate(120.65,424.6) scale(1,1.1)" class="lb" font-size="6.4">Ar1</text>
<text transform="translate(151.75,429) scale(1,1.1)" class="lb" font-size="6.4">FeF1</text>
<text transform="translate(130.15,438.3) scale(1,1.1)" class="lb" font-size="6.4">BeN1</text>
<text transform="translate(66.55,438.9) scale(1,1.1)" class="lb" font-size="6.4">BN4</text>
<text transform="translate(96.25,446.9) scale(1,1.1)" class="lb" font-size="6.4">LiN2</text>
<text transform="translate(135.75,449.4) scale(1,1.1)" class="lb" font-size="6.4">SiN</text>
<text transform="translate(43.45,454.8) scale(1,1.1)" class="lb" font-size="6.4">BeAr</text>
<text transform="translate(98.35,458.5) scale(1,1.1)" class="lb" font-size="6.4">LiN1</text>
<text transform="translate(143.45,459) scale(1,1.1)" class="lb" font-size="6.4">AlO1</text>
<text transform="translate(165.55,473.9) scale(1,1.1)" class="lb" font-size="6.4">AB7</text>
<text transform="translate(60.25,477.3) scale(1,1.1)" class="lb" font-size="6.4">BeKr</text>
<text transform="translate(175.55,481.7) scale(1,1.1)" class="lb" font-size="6.4">KrO</text>
<text transform="translate(195.85,483) scale(1,1.1)" class="lb" font-size="6.4">SiF</text>
<text transform="translate(159.05,491) scale(1,1.1)" class="lb" font-size="6.4">AB1</text>
<text transform="translate(182.05,491) scale(1,1.1)" class="lb" font-size="6.4">AlF</text>
<text transform="translate(203.75,494.3) scale(1,1.1)" class="lb" font-size="6.4">GaF</text>
<text transform="translate(111.45,493.7) scale(1,1.1)" class="lb" font-size="6.4">AB6</text>
<text transform="translate(130.05,497.9) scale(1,1.1)" class="lb" font-size="6.4">LiC1</text>
<text transform="translate(208.55,501.5) scale(1,1.1)" class="lb" font-size="6.4">CF</text>
<text transform="translate(6.4,435) rotate(-90)" class="tt" font-size="6.6" text-anchor="middle">k<tspan dy="-2.2" font-size="4.2">a</tspan><tspan dy="2.2">(DHB) [mdyn/Å]</tspan></text>
<text x="125.7" y="521.8" class="tt" font-size="6.6" text-anchor="middle">k<tspan dy="-2.2" font-size="4.2">a</tspan><tspan dy="2.2">(Protonic) [mdyn/Å]</tspan></text>
<text transform="translate(112.6,545.2) scale(1,1.07)" class="cap" font-size="12" text-anchor="middle">(e)</text>
<circle cx="56.7" cy="379" r="2.92" fill="#ee3426" stroke="#1a0606" stroke-width="0.75"/>
<circle cx="63.1" cy="379.3" r="2.92" fill="#ee3426" stroke="#1a0606" stroke-width="0.75"/>
<circle cx="82.2" cy="380.1" r="2.92" fill="#ee3426" stroke="#1a0606" stroke-width="0.75"/>
<circle cx="51.9" cy="389.7" r="2.92" fill="#ee3426" stroke="#1a0606" stroke-width="0.75"/>
<circle cx="43.6" cy="396.9" r="2.92" fill="#ee3426" stroke="#1a0606" stroke-width="0.75"/>
<circle cx="86.2" cy="406.4" r="2.92" fill="#ee3426" stroke="#1a0606" stroke-width="0.75"/>
<circle cx="86.6" cy="411.2" r="2.92" fill="#ee3426" stroke="#1a0606" stroke-width="0.75"/>
<circle cx="100" cy="415.7" r="2.92" fill="#ee3426" stroke="#1a0606" stroke-width="0.75"/>
<circle cx="90.5" cy="421.8" r="2.92" fill="#ee3426" stroke="#1a0606" stroke-width="0.75"/>
<circle cx="74.5" cy="443.1" r="2.92" fill="#ee3426" stroke="#1a0606" stroke-width="0.75"/>
<circle cx="93.4" cy="444.3" r="2.92" fill="#ee3426" stroke="#1a0606" stroke-width="0.75"/>
<circle cx="126.5" cy="435.8" r="2.92" fill="#ee3426" stroke="#1a0606" stroke-width="0.75"/>
<circle cx="133.4" cy="450.3" r="2.92" fill="#ee3426" stroke="#1a0606" stroke-width="0.75"/>
<circle cx="89.9" cy="461.7" r="2.92" fill="#ee3426" stroke="#1a0606" stroke-width="0.75"/>
<circle cx="100" cy="461.7" r="2.92" fill="#ee3426" stroke="#1a0606" stroke-width="0.75"/>
<circle cx="96.7" cy="469.2" r="2.92" fill="#ee3426" stroke="#1a0606" stroke-width="0.75"/>
<circle cx="104.8" cy="469.9" r="2.92" fill="#ee3426" stroke="#1a0606" stroke-width="0.75"/>
<circle cx="88.7" cy="483.4" r="2.92" fill="#ee3426" stroke="#1a0606" stroke-width="0.75"/>
<circle cx="103.5" cy="481.4" r="2.92" fill="#ee3426" stroke="#1a0606" stroke-width="0.75"/>
<circle cx="117.1" cy="463.5" r="2.92" fill="#ee3426" stroke="#1a0606" stroke-width="0.75"/>
<circle cx="122" cy="464.2" r="2.92" fill="#ee3426" stroke="#1a0606" stroke-width="0.75"/>
<circle cx="117.2" cy="483.2" r="2.92" fill="#ee3426" stroke="#1a0606" stroke-width="0.75"/>
<circle cx="128.7" cy="471.1" r="2.92" fill="#ee3426" stroke="#1a0606" stroke-width="0.75"/>
<circle cx="128.3" cy="481.8" r="2.92" fill="#ee3426" stroke="#1a0606" stroke-width="0.75"/>
<circle cx="125.3" cy="486.3" r="2.92" fill="#ee3426" stroke="#1a0606" stroke-width="0.75"/>
<circle cx="124.4" cy="498.8" r="2.92" fill="#ee3426" stroke="#1a0606" stroke-width="0.75"/>
<circle cx="129.2" cy="498.8" r="2.92" fill="#ee3426" stroke="#1a0606" stroke-width="0.75"/>
<circle cx="134.4" cy="480.1" r="2.92" fill="#ee3426" stroke="#1a0606" stroke-width="0.75"/>
<circle cx="137" cy="479.5" r="2.92" fill="#ee3426" stroke="#1a0606" stroke-width="0.75"/>
<circle cx="140" cy="484.3" r="2.92" fill="#ee3426" stroke="#1a0606" stroke-width="0.75"/>
<circle cx="141.2" cy="484.2" r="2.92" fill="#ee3426" stroke="#1a0606" stroke-width="0.75"/>
<circle cx="143.4" cy="489.9" r="2.92" fill="#ee3426" stroke="#1a0606" stroke-width="0.75"/>
<circle cx="147.2" cy="493.8" r="2.92" fill="#ee3426" stroke="#1a0606" stroke-width="0.75"/>
<circle cx="160.5" cy="460.8" r="2.92" fill="#ee3426" stroke="#1a0606" stroke-width="0.75"/>
<circle cx="165.1" cy="460.4" r="2.92" fill="#ee3426" stroke="#1a0606" stroke-width="0.75"/>
<circle cx="169.2" cy="466.4" r="2.92" fill="#ee3426" stroke="#1a0606" stroke-width="0.75"/>
<circle cx="156.1" cy="466.9" r="2.92" fill="#ee3426" stroke="#1a0606" stroke-width="0.75"/>
<circle cx="156.1" cy="471.4" r="2.92" fill="#ee3426" stroke="#1a0606" stroke-width="0.75"/>
<circle cx="187.5" cy="468.1" r="2.92" fill="#ee3426" stroke="#1a0606" stroke-width="0.75"/>
<circle cx="166" cy="478.7" r="2.92" fill="#ee3426" stroke="#1a0606" stroke-width="0.75"/>
<circle cx="188.7" cy="494" r="2.92" fill="#ee3426" stroke="#1a0606" stroke-width="0.75"/>
<circle cx="201.6" cy="486.7" r="2.92" fill="#ee3426" stroke="#1a0606" stroke-width="0.75"/>
<circle cx="201.6" cy="496.2" r="2.92" fill="#ee3426" stroke="#1a0606" stroke-width="0.75"/>
<circle cx="206.6" cy="500.2" r="2.92" fill="#ee3426" stroke="#1a0606" stroke-width="0.75"/>
<circle cx="127.4" cy="492" r="2.92" fill="#4394d8" stroke="#1a0606" stroke-width="0.75"/>
<circle cx="163.1" cy="469" r="2.92" fill="#4394d8" stroke="#1a0606" stroke-width="0.75"/>
<circle cx="154.5" cy="485.1" r="2.92" fill="#4394d8" stroke="#1a0606" stroke-width="0.75"/>
<circle cx="151.4" cy="489.7" r="2.92" fill="#4394d8" stroke="#1a0606" stroke-width="0.75"/>
<circle cx="151.4" cy="495" r="2.92" fill="#4394d8" stroke="#1a0606" stroke-width="0.75"/>
<circle cx="162.1" cy="494.7" r="2.92" fill="#4394d8" stroke="#1a0606" stroke-width="0.75"/>
<circle cx="158.5" cy="498.5" r="2.92" fill="#4394d8" stroke="#1a0606" stroke-width="0.75"/>
<circle cx="176.4" cy="491.8" r="2.92" fill="#4394d8" stroke="#1a0606" stroke-width="0.75"/>
<circle cx="149" cy="426.4" r="2.92" fill="#ad62c4" stroke="#1a0606" stroke-width="0.75"/>
<circle cx="170.5" cy="463.8" r="2.92" fill="#ad62c4" stroke="#1a0606" stroke-width="0.75"/>
<circle cx="157.3" cy="479.3" r="2.92" fill="#ad62c4" stroke="#1a0606" stroke-width="0.75"/>
<circle cx="157.7" cy="493.8" r="2.92" fill="#ad62c4" stroke="#1a0606" stroke-width="0.75"/>
<circle cx="174.6" cy="497.1" r="2.92" fill="#ad62c4" stroke="#1a0606" stroke-width="0.75"/>
<circle cx="164.2" cy="501" r="2.92" fill="#ad62c4" stroke="#1a0606" stroke-width="0.75"/>
<circle cx="63.4" cy="452.2" r="2.92" fill="#f68f0c" stroke="#1a0606" stroke-width="0.75"/>
<circle cx="78.4" cy="478.7" r="2.92" fill="#f68f0c" stroke="#1a0606" stroke-width="0.75"/>
<circle cx="175.6" cy="484.5" r="2.92" fill="#f68f0c" stroke="#1a0606" stroke-width="0.75"/>
<circle cx="136.1" cy="413.5" r="2.92" fill="#f6f023" stroke="#1a0606" stroke-width="0.75"/>
<circle cx="134.5" cy="420.9" r="2.92" fill="#f6f023" stroke="#1a0606" stroke-width="0.75"/>
<rect x="156" y="372" width="54.4" height="40.1" fill="#fff" stroke="#4a4a4a" stroke-width="0.9"/>
<circle cx="162.6" cy="377.1" r="2.9" fill="#ee3426" stroke="#1a0606" stroke-width="0.75"/>
<text x="168.7" y="379.4" class="lg" font-size="6.4">Group I</text>
<circle cx="162.6" cy="384.7" r="2.9" fill="#4394d8" stroke="#1a0606" stroke-width="0.75"/>
<text x="168.7" y="387" class="lg" font-size="6.4">Group II</text>
<circle cx="162.6" cy="392.4" r="2.9" fill="#ad62c4" stroke="#1a0606" stroke-width="0.75"/>
<text x="168.7" y="394.7" class="lg" font-size="6.4">Group III</text>
<circle cx="162.6" cy="399.6" r="2.9" fill="#f68f0c" stroke="#1a0606" stroke-width="0.75"/>
<text x="168.7" y="401.9" class="lg" font-size="6.4">Group IV</text>
<circle cx="162.6" cy="407.3" r="2.9" fill="#f6f023" stroke="#1a0606" stroke-width="0.75"/>
<text x="168.7" y="409.6" class="lg" font-size="6.4">Group V</text>
</g>
<g>
<path d="M306.7 503.5v2.8M306.7 366.8v2.8M309.84 503.5v1.5M309.84 366.8v1.5M312.98 503.5v1.5M312.98 366.8v1.5M316.12 503.5v1.5M316.12 366.8v1.5M319.26 503.5v1.5M319.26 366.8v1.5M322.4 503.5v1.5M322.4 366.8v1.5M325.54 503.5v1.5M325.54 366.8v1.5M328.68 503.5v1.5M328.68 366.8v1.5M331.82 503.5v1.5M331.82 366.8v1.5M334.96 503.5v1.5M334.96 366.8v1.5M338.1 503.5v2.8M338.1 366.8v2.8M341.24 503.5v1.5M341.24 366.8v1.5M344.38 503.5v1.5M344.38 366.8v1.5M347.52 503.5v1.5M347.52 366.8v1.5M350.66 503.5v1.5M350.66 366.8v1.5M353.8 503.5v1.5M353.8 366.8v1.5M356.94 503.5v1.5M356.94 366.8v1.5M360.08 503.5v1.5M360.08 366.8v1.5M363.22 503.5v1.5M363.22 366.8v1.5M366.36 503.5v1.5M366.36 366.8v1.5M369.5 503.5v2.8M369.5 366.8v2.8M372.64 503.5v1.5M372.64 366.8v1.5M375.78 503.5v1.5M375.78 366.8v1.5M378.92 503.5v1.5M378.92 366.8v1.5M382.06 503.5v1.5M382.06 366.8v1.5M385.2 503.5v1.5M385.2 366.8v1.5M388.34 503.5v1.5M388.34 366.8v1.5M391.48 503.5v1.5M391.48 366.8v1.5M394.62 503.5v1.5M394.62 366.8v1.5M397.76 503.5v1.5M397.76 366.8v1.5M400.9 503.5v2.8M400.9 366.8v2.8M404.04 503.5v1.5M404.04 366.8v1.5M407.18 503.5v1.5M407.18 366.8v1.5M410.32 503.5v1.5M410.32 366.8v1.5M413.46 503.5v1.5M413.46 366.8v1.5M416.6 503.5v1.5M416.6 366.8v1.5M419.74 503.5v1.5M419.74 366.8v1.5M422.88 503.5v1.5M422.88 366.8v1.5M426.02 503.5v1.5M426.02 366.8v1.5M429.16 503.5v1.5M429.16 366.8v1.5M432.3 503.5v2.8M432.3 366.8v2.8M435.44 503.5v1.5M435.44 366.8v1.5M438.58 503.5v1.5M438.58 366.8v1.5M441.72 503.5v1.5M441.72 366.8v1.5M444.86 503.5v1.5M444.86 366.8v1.5M448 503.5v1.5M448 366.8v1.5M451.14 503.5v1.5M451.14 366.8v1.5M454.28 503.5v1.5M454.28 366.8v1.5M457.42 503.5v1.5M457.42 366.8v1.5M460.56 503.5v1.5M460.56 366.8v1.5M463.7 503.5v2.8M463.7 366.8v2.8M466.84 503.5v1.5M466.84 366.8v1.5M469.98 503.5v1.5M469.98 366.8v1.5M473.12 503.5v1.5M473.12 366.8v1.5M476.26 503.5v1.5M476.26 366.8v1.5M479.4 503.5v1.5M479.4 366.8v1.5M482.54 503.5v1.5M482.54 366.8v1.5M485.68 503.5v1.5M485.68 366.8v1.5M488.82 503.5v1.5M488.82 366.8v1.5M491.96 503.5v1.5M491.96 366.8v1.5M495.1 503.5v2.8M495.1 366.8v2.8" stroke="#111" stroke-width="0.8" fill="none"/>
<text transform="translate(306.7,512.4) scale(1,1.1)" class="tk" font-size="6.4" text-anchor="middle">0</text>
<text transform="translate(338.1,512.4) scale(1,1.1)" class="tk" font-size="6.4" text-anchor="middle">1</text>
<text transform="translate(369.5,512.4) scale(1,1.1)" class="tk" font-size="6.4" text-anchor="middle">2</text>
<text transform="translate(400.9,512.4) scale(1,1.1)" class="tk" font-size="6.4" text-anchor="middle">3</text>
<text transform="translate(432.3,512.4) scale(1,1.1)" class="tk" font-size="6.4" text-anchor="middle">4</text>
<text transform="translate(463.7,512.4) scale(1,1.1)" class="tk" font-size="6.4" text-anchor="middle">5</text>
<text transform="translate(495.1,512.4) scale(1,1.1)" class="tk" font-size="6.4" text-anchor="middle">6</text>
<path d="M306.7 503.5h-2.8M495.1 503.5h-2.8M306.7 500.46h-1.5M495.1 500.46h-1.5M306.7 497.42h-1.5M495.1 497.42h-1.5M306.7 494.39h-1.5M495.1 494.39h-1.5M306.7 491.35h-1.5M495.1 491.35h-1.5M306.7 488.31h-2.8M495.1 488.31h-2.8M306.7 485.27h-1.5M495.1 485.27h-1.5M306.7 482.24h-1.5M495.1 482.24h-1.5M306.7 479.2h-1.5M495.1 479.2h-1.5M306.7 476.16h-1.5M495.1 476.16h-1.5M306.7 473.12h-2.8M495.1 473.12h-2.8M306.7 470.08h-1.5M495.1 470.08h-1.5M306.7 467.05h-1.5M495.1 467.05h-1.5M306.7 464.01h-1.5M495.1 464.01h-1.5M306.7 460.97h-1.5M495.1 460.97h-1.5M306.7 457.93h-2.8M495.1 457.93h-2.8M306.7 454.9h-1.5M495.1 454.9h-1.5M306.7 451.86h-1.5M495.1 451.86h-1.5M306.7 448.82h-1.5M495.1 448.82h-1.5M306.7 445.78h-1.5M495.1 445.78h-1.5M306.7 442.74h-2.8M495.1 442.74h-2.8M306.7 439.71h-1.5M495.1 439.71h-1.5M306.7 436.67h-1.5M495.1 436.67h-1.5M306.7 433.63h-1.5M495.1 433.63h-1.5M306.7 430.59h-1.5M495.1 430.59h-1.5M306.7 427.56h-2.8M495.1 427.56h-2.8M306.7 424.52h-1.5M495.1 424.52h-1.5M306.7 421.48h-1.5M495.1 421.48h-1.5M306.7 418.44h-1.5M495.1 418.44h-1.5M306.7 415.4h-1.5M495.1 415.4h-1.5M306.7 412.37h-2.8M495.1 412.37h-2.8M306.7 409.33h-1.5M495.1 409.33h-1.5M306.7 406.29h-1.5M495.1 406.29h-1.5M306.7 403.25h-1.5M495.1 403.25h-1.5M306.7 400.22h-1.5M495.1 400.22h-1.5M306.7 397.18h-2.8M495.1 397.18h-2.8M306.7 394.14h-1.5M495.1 394.14h-1.5M306.7 391.1h-1.5M495.1 391.1h-1.5M306.7 388.06h-1.5M495.1 388.06h-1.5M306.7 385.03h-1.5M495.1 385.03h-1.5M306.7 381.99h-2.8M495.1 381.99h-2.8M306.7 378.95h-1.5M495.1 378.95h-1.5M306.7 375.91h-1.5M495.1 375.91h-1.5M306.7 372.88h-1.5M495.1 372.88h-1.5M306.7 369.84h-1.5M495.1 369.84h-1.5M306.7 366.8h-2.8M495.1 366.8h-2.8" stroke="#111" stroke-width="0.8" fill="none"/>
<text transform="translate(303,505.7) scale(1,1.1)" class="tk" font-size="6.4" text-anchor="end">0</text>
<text transform="translate(303,490.51) scale(1,1.1)" class="tk" font-size="6.4" text-anchor="end">0.05</text>
<text transform="translate(303,475.32) scale(1,1.1)" class="tk" font-size="6.4" text-anchor="end">0.10</text>
<text transform="translate(303,460.13) scale(1,1.1)" class="tk" font-size="6.4" text-anchor="end">0.15</text>
<text transform="translate(303,444.94) scale(1,1.1)" class="tk" font-size="6.4" text-anchor="end">0.20</text>
<text transform="translate(303,429.76) scale(1,1.1)" class="tk" font-size="6.4" text-anchor="end">0.25</text>
<text transform="translate(303,414.57) scale(1,1.1)" class="tk" font-size="6.4" text-anchor="end">0.30</text>
<text transform="translate(303,399.38) scale(1,1.1)" class="tk" font-size="6.4" text-anchor="end">0.35</text>
<text transform="translate(303,384.19) scale(1,1.1)" class="tk" font-size="6.4" text-anchor="end">0.40</text>
<text transform="translate(303,369) scale(1,1.1)" class="tk" font-size="6.4" text-anchor="end">0.45</text>
<text transform="translate(356.35,375.3) scale(1,1.1)" class="lb" font-size="6.4">BeO2</text>
<text transform="translate(336.45,381.2) scale(1,1.1)" class="lb" font-size="6.4">BeO4</text>
<text transform="translate(370.45,382.1) scale(1,1.1)" class="lb" font-size="6.4">BeO1</text>
<text transform="translate(365.35,392) scale(1,1.1)" class="lb" font-size="6.4">BeN2</text>
<text transform="translate(335.15,400.3) scale(1,1.1)" class="lb" font-size="6.4">BeO3</text>
<text transform="translate(379.25,407.9) scale(1,1.1)" class="lb" font-size="6.4">SiO</text>
<text transform="translate(348.35,411.9) scale(1,1.1)" class="lb" font-size="6.4">BeN3</text>
<text transform="translate(330.85,419.9) scale(1,1.1)" class="lb" font-size="6.4">AlO2</text>
<text transform="translate(386.45,424.2) scale(1,1.1)" class="lb" font-size="6.4">BN2</text>
<text transform="translate(345.15,429.1) scale(1,1.1)" class="lb" font-size="6.4">FeF1</text>
<text transform="translate(327.15,440.3) scale(1,1.1)" class="lb" font-size="6.4">LiN2</text>
<text transform="translate(357.35,448.9) scale(1,1.1)" class="lb" font-size="6.4">BeAr</text>
<text transform="translate(344.35,457.4) scale(1,1.1)" class="lb" font-size="6.4">AlO1</text>
<text transform="translate(370.45,465.6) scale(1,1.1)" class="lb" font-size="6.4">BeF</text>
<text transform="translate(351.35,472.6) scale(1,1.1)" class="lb" font-size="6.4">FeO1</text>
<text transform="translate(321.25,476.4) scale(1,1.1)" class="lb" font-size="6.4">NaC6</text>
<text transform="translate(340.35,481.2) scale(1,1.1)" class="lb" font-size="6.4">LiC5</text>
<text transform="translate(362.15,486.5) scale(1,1.1)" class="lb" font-size="6.4">BeC1</text>
<text transform="translate(381.45,486.5) scale(1,1.1)" class="lb" font-size="6.4">BeS1</text>
<text transform="translate(340.35,496.1) scale(1,1.1)" class="lb" font-size="6.4">LiC1</text>
<text transform="translate(374.85,501) scale(1,1.1)" class="lb" font-size="6.4">BeC3</text>
<text transform="translate(405.35,471) scale(1,1.1)" class="lb" font-size="6.4">AB7</text>
<text transform="translate(404.75,483.5) scale(1,1.1)" class="lb" font-size="6.4">AB3</text>
<text transform="translate(410.65,501.4) scale(1,1.1)" class="lb" font-size="6.4">AB6</text>
<text transform="translate(480.15,408.9) scale(1,1.1)" class="lb" font-size="6.4">Ar3</text>
<text transform="translate(479.55,429.2) scale(1,1.1)" class="lb" font-size="6.4">Ar1</text>
<text transform="translate(465.95,494.3) scale(1,1.1)" class="lb" font-size="6.4">CF</text>
<text transform="translate(282.7,434.3) rotate(-90)" class="tt" font-size="6.6" text-anchor="middle">k<tspan dy="-2.2" font-size="4.2">a</tspan><tspan dy="2.2">(DHB) [mdyn/Å]</tspan></text>
<text x="402" y="521.8" class="tt" font-size="6.6" text-anchor="middle">k<tspan dy="-2.2" font-size="4.2">a</tspan><tspan dy="2.2">(Hydridic) [mdyn/Å]</tspan></text>
<text transform="translate(390.1,545.2) scale(1,1.07)" class="cap" font-size="12" text-anchor="middle">(f)</text>
<circle cx="356.2" cy="378.5" r="2.92" fill="#ee3426" stroke="#1a0606" stroke-width="0.75"/>
<circle cx="362.3" cy="379.3" r="2.92" fill="#ee3426" stroke="#1a0606" stroke-width="0.75"/>
<circle cx="366.3" cy="380.1" r="2.92" fill="#ee3426" stroke="#1a0606" stroke-width="0.75"/>
<circle cx="361.5" cy="389.7" r="2.92" fill="#ee3426" stroke="#1a0606" stroke-width="0.75"/>
<circle cx="355.5" cy="396.9" r="2.92" fill="#ee3426" stroke="#1a0606" stroke-width="0.75"/>
<circle cx="375.8" cy="406.1" r="2.92" fill="#ee3426" stroke="#1a0606" stroke-width="0.75"/>
<circle cx="368.5" cy="410.9" r="2.92" fill="#ee3426" stroke="#1a0606" stroke-width="0.75"/>
<circle cx="349.9" cy="416" r="2.92" fill="#ee3426" stroke="#1a0606" stroke-width="0.75"/>
<circle cx="383" cy="421.6" r="2.92" fill="#ee3426" stroke="#1a0606" stroke-width="0.75"/>
<circle cx="371.9" cy="435.9" r="2.92" fill="#ee3426" stroke="#1a0606" stroke-width="0.75"/>
<circle cx="376.3" cy="443.2" r="2.92" fill="#ee3426" stroke="#1a0606" stroke-width="0.75"/>
<circle cx="335.6" cy="444.7" r="2.92" fill="#ee3426" stroke="#1a0606" stroke-width="0.75"/>
<circle cx="387" cy="450.5" r="2.92" fill="#ee3426" stroke="#1a0606" stroke-width="0.75"/>
<circle cx="352.8" cy="460.6" r="2.92" fill="#ee3426" stroke="#1a0606" stroke-width="0.75"/>
<circle cx="324.9" cy="461.8" r="2.92" fill="#ee3426" stroke="#1a0606" stroke-width="0.75"/>
<circle cx="329.9" cy="461.2" r="2.92" fill="#ee3426" stroke="#1a0606" stroke-width="0.75"/>
<circle cx="329.7" cy="463.6" r="2.92" fill="#ee3426" stroke="#1a0606" stroke-width="0.75"/>
<circle cx="337.6" cy="464.1" r="2.92" fill="#ee3426" stroke="#1a0606" stroke-width="0.75"/>
<circle cx="375.6" cy="467.8" r="2.92" fill="#ee3426" stroke="#1a0606" stroke-width="0.75"/>
<circle cx="319.7" cy="469.2" r="2.92" fill="#ee3426" stroke="#1a0606" stroke-width="0.75"/>
<circle cx="329.5" cy="480.1" r="2.92" fill="#ee3426" stroke="#1a0606" stroke-width="0.75"/>
<circle cx="337.9" cy="480.1" r="2.92" fill="#ee3426" stroke="#1a0606" stroke-width="0.75"/>
<circle cx="325.9" cy="483.1" r="2.92" fill="#ee3426" stroke="#1a0606" stroke-width="0.75"/>
<circle cx="327.7" cy="486.3" r="2.92" fill="#ee3426" stroke="#1a0606" stroke-width="0.75"/>
<circle cx="333.1" cy="489" r="2.92" fill="#ee3426" stroke="#1a0606" stroke-width="0.75"/>
<circle cx="327.5" cy="492.6" r="2.92" fill="#ee3426" stroke="#1a0606" stroke-width="0.75"/>
<circle cx="333.4" cy="493.2" r="2.92" fill="#ee3426" stroke="#1a0606" stroke-width="0.75"/>
<circle cx="329.5" cy="496.2" r="2.92" fill="#ee3426" stroke="#1a0606" stroke-width="0.75"/>
<circle cx="337.5" cy="496.2" r="2.92" fill="#ee3426" stroke="#1a0606" stroke-width="0.75"/>
<circle cx="363.5" cy="493.8" r="2.92" fill="#ee3426" stroke="#1a0606" stroke-width="0.75"/>
<circle cx="388.3" cy="460.2" r="2.92" fill="#ee3426" stroke="#1a0606" stroke-width="0.75"/>
<circle cx="387.5" cy="465.8" r="2.92" fill="#ee3426" stroke="#1a0606" stroke-width="0.75"/>
<circle cx="392.3" cy="466.6" r="2.92" fill="#ee3426" stroke="#1a0606" stroke-width="0.75"/>
<circle cx="397.2" cy="472.3" r="2.92" fill="#ee3426" stroke="#1a0606" stroke-width="0.75"/>
<circle cx="395.5" cy="469.7" r="2.92" fill="#ee3426" stroke="#1a0606" stroke-width="0.75"/>
<circle cx="390.3" cy="471.3" r="2.92" fill="#ee3426" stroke="#1a0606" stroke-width="0.75"/>
<circle cx="380.1" cy="478.6" r="2.92" fill="#ee3426" stroke="#1a0606" stroke-width="0.75"/>
<circle cx="379.5" cy="483.7" r="2.92" fill="#ee3426" stroke="#1a0606" stroke-width="0.75"/>
<circle cx="380.1" cy="489.7" r="2.92" fill="#ee3426" stroke="#1a0606" stroke-width="0.75"/>
<circle cx="380.7" cy="493.9" r="2.92" fill="#ee3426" stroke="#1a0606" stroke-width="0.75"/>
<circle cx="391.5" cy="480.6" r="2.92" fill="#ee3426" stroke="#1a0606" stroke-width="0.75"/>
<circle cx="394.2" cy="481.6" r="2.92" fill="#ee3426" stroke="#1a0606" stroke-width="0.75"/>
<circle cx="388.4" cy="483.9" r="2.92" fill="#ee3426" stroke="#1a0606" stroke-width="0.75"/>
<circle cx="392.6" cy="486.6" r="2.92" fill="#ee3426" stroke="#1a0606" stroke-width="0.75"/>
<circle cx="393.5" cy="490.6" r="2.92" fill="#ee3426" stroke="#1a0606" stroke-width="0.75"/>
<circle cx="394.4" cy="498.7" r="2.92" fill="#ee3426" stroke="#1a0606" stroke-width="0.75"/>
<circle cx="364" cy="493.9" r="2.92" fill="#ee3426" stroke="#1a0606" stroke-width="0.75"/>
<circle cx="469.9" cy="499.7" r="2.92" fill="#ee3426" stroke="#1a0606" stroke-width="0.75"/>
<circle cx="401.9" cy="468.9" r="2.92" fill="#4394d8" stroke="#1a0606" stroke-width="0.75"/>
<circle cx="403" cy="484.9" r="2.92" fill="#4394d8" stroke="#1a0606" stroke-width="0.75"/>
<circle cx="407.5" cy="488.6" r="2.92" fill="#4394d8" stroke="#1a0606" stroke-width="0.75"/>
<circle cx="409.1" cy="490.8" r="2.92" fill="#4394d8" stroke="#1a0606" stroke-width="0.75"/>
<circle cx="405.8" cy="491.7" r="2.92" fill="#4394d8" stroke="#1a0606" stroke-width="0.75"/>
<circle cx="402.8" cy="494.4" r="2.92" fill="#4394d8" stroke="#1a0606" stroke-width="0.75"/>
<circle cx="404.6" cy="495.6" r="2.92" fill="#4394d8" stroke="#1a0606" stroke-width="0.75"/>
<circle cx="407.5" cy="498.7" r="2.92" fill="#4394d8" stroke="#1a0606" stroke-width="0.75"/>
<circle cx="364.3" cy="426.4" r="2.92" fill="#ad62c4" stroke="#1a0606" stroke-width="0.75"/>
<circle cx="365.9" cy="463.3" r="2.92" fill="#ad62c4" stroke="#1a0606" stroke-width="0.75"/>
<circle cx="367.7" cy="479" r="2.92" fill="#ad62c4" stroke="#1a0606" stroke-width="0.75"/>
<circle cx="367.5" cy="492.9" r="2.92" fill="#ad62c4" stroke="#1a0606" stroke-width="0.75"/>
<circle cx="367.5" cy="497" r="2.92" fill="#ad62c4" stroke="#1a0606" stroke-width="0.75"/>
<circle cx="361.6" cy="500.8" r="2.92" fill="#ad62c4" stroke="#1a0606" stroke-width="0.75"/>
<circle cx="370" cy="452.4" r="2.92" fill="#f68f0c" stroke="#1a0606" stroke-width="0.75"/>
<circle cx="333.4" cy="484.3" r="2.92" fill="#f68f0c" stroke="#1a0606" stroke-width="0.75"/>
<circle cx="375.9" cy="478.7" r="2.92" fill="#f68f0c" stroke="#1a0606" stroke-width="0.75"/>
<circle cx="482" cy="421.5" r="2.92" fill="#f6f023" stroke="#1a0606" stroke-width="0.75"/>
<circle cx="484.3" cy="413.7" r="2.92" fill="#f6f023" stroke="#1a0606" stroke-width="0.75"/>
<circle cx="480.6" cy="420.5" r="2.92" fill="#f6f023" stroke="#1a0606" stroke-width="0.75"/>
<circle cx="372.6" cy="496.4" r="2.92" fill="#ee3426" stroke="#1a0606" stroke-width="0.75"/>
<rect x="424.5" y="371.4" width="53.5" height="39.6" fill="#fff" stroke="#4a4a4a" stroke-width="0.9"/>
<circle cx="431.4" cy="375.8" r="2.9" fill="#ee3426" stroke="#1a0606" stroke-width="0.75"/>
<text x="437.5" y="378.1" class="lg" font-size="6.4">Group I</text>
<circle cx="431.4" cy="383.3" r="2.9" fill="#4394d8" stroke="#1a0606" stroke-width="0.75"/>
<text x="437.5" y="385.6" class="lg" font-size="6.4">Group II</text>
<circle cx="431.4" cy="390.8" r="2.9" fill="#ad62c4" stroke="#1a0606" stroke-width="0.75"/>
<text x="437.5" y="393.1" class="lg" font-size="6.4">Group III</text>
<circle cx="431.4" cy="398.5" r="2.9" fill="#f68f0c" stroke="#1a0606" stroke-width="0.75"/>
<text x="437.5" y="400.8" class="lg" font-size="6.4">Group IV</text>
<circle cx="431.4" cy="406.3" r="2.9" fill="#f6f023" stroke="#1a0606" stroke-width="0.75"/>
<text x="437.5" y="408.6" class="lg" font-size="6.4">Group V</text>
</g>
<rect x="24.3" y="3.5" width="193.7" height="137" fill="none" stroke="#111" stroke-width="1.15"/>
<rect x="301.7" y="3.6" width="193.8" height="137" fill="none" stroke="#111" stroke-width="1.15"/>
<rect x="24.6" y="185.3" width="193.4" height="136.9" fill="none" stroke="#111" stroke-width="1.15"/>
<rect x="301.7" y="185.3" width="193.7" height="136.9" fill="none" stroke="#111" stroke-width="1.15"/>
<rect x="29.1" y="366.4" width="188.6" height="137.3" fill="none" stroke="#111" stroke-width="1.15"/>
<rect x="306.7" y="366.8" width="188.4" height="136.7" fill="none" stroke="#111" stroke-width="1.15"/>
</g>
</svg></body></html>
